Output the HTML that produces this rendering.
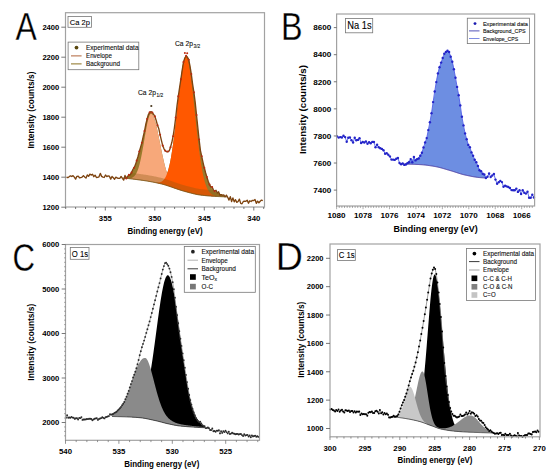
<!DOCTYPE html>
<html><head><meta charset="utf-8"><style>
html,body{margin:0;padding:0;background:#fff;width:550px;height:473px;overflow:hidden;position:relative}
text{font-family:"Liberation Sans", sans-serif}
</style></head><body>
<svg width="550" height="473" viewBox="0 0 550 473" style="position:absolute;left:0;top:0">
<g font-family='"Liberation Sans", sans-serif'>
<polygon points="122.50,178.09 123.00,178.11 123.50,178.14 124.00,178.09 124.50,177.96 125.00,177.77 125.50,177.55 126.00,177.29 126.50,177.00 127.00,176.70 127.50,176.39 128.00,176.04 128.50,175.64 129.00,175.20 129.50,174.71 130.00,174.17 130.50,173.59 131.00,172.97 131.50,172.31 132.00,171.59 132.50,170.80 133.00,169.93 133.50,168.98 134.00,167.96 134.50,166.87 135.00,165.70 135.50,164.45 136.00,163.08 136.50,161.54 137.00,159.84 137.50,158.05 138.00,156.22 138.50,154.42 139.00,152.64 139.50,150.87 140.00,149.08 140.50,147.27 141.00,145.43 141.50,143.58 142.00,141.70 142.50,139.79 143.00,137.83 143.50,135.78 144.00,133.57 144.50,131.14 145.00,128.50 145.50,125.80 146.00,123.24 146.50,120.97 147.00,119.03 147.50,117.34 148.00,115.85 148.50,114.60 149.00,113.59 149.50,112.77 150.00,112.11 150.50,111.94 151.00,112.02 151.50,112.38 152.00,112.97 152.50,113.78 153.00,114.85 153.50,116.20 154.00,117.83 154.50,119.24 155.00,120.84 155.50,122.61 156.00,124.53 156.50,126.59 157.00,128.77 157.50,131.05 158.00,133.41 158.50,135.83 159.00,138.31 159.50,140.80 160.00,143.31 160.50,145.82 161.00,148.31 161.50,150.77 162.00,153.18 162.50,155.54 163.00,157.83 163.50,160.04 164.00,162.18 164.50,164.22 165.00,166.17 165.50,168.02 166.00,169.78 166.50,171.43 167.00,172.98 167.50,172.37 168.00,170.78 168.50,169.03 169.00,167.09 169.50,164.96 170.00,162.64 170.50,160.13 171.00,157.41 171.50,154.49 172.00,151.37 172.50,148.05 173.00,144.54 173.50,140.84 174.00,136.96 174.50,132.92 175.00,128.73 175.50,124.42 176.00,119.99 176.50,115.49 177.00,110.93 177.50,106.34 178.00,101.76 178.50,97.22 179.00,92.75 179.50,88.52 180.00,85.13 180.50,81.57 181.00,77.96 181.50,74.40 182.00,70.90 182.50,67.45 183.00,64.25 183.50,61.64 184.00,59.69 184.50,58.14 185.00,56.94 185.50,56.12 186.00,55.70 186.50,55.78 187.00,56.11 187.50,56.62 188.00,57.37 188.50,58.47 189.00,60.02 189.50,62.24 190.00,65.23 190.50,68.77 191.00,72.46 191.50,76.09 192.00,79.68 192.50,83.27 193.00,86.83 193.50,90.30 194.00,93.70 194.50,97.22 195.00,101.10 195.50,105.47 196.00,110.22 196.50,115.15 197.00,120.03 197.50,124.83 198.00,129.61 198.50,134.36 199.00,138.97 199.50,143.25 200.00,147.07 200.50,150.38 201.00,153.28 201.50,155.90 202.00,158.31 202.50,160.56 203.00,162.68 203.50,164.68 204.00,166.61 204.50,168.48 205.00,170.33 205.50,172.18 206.00,174.03 206.50,175.87 207.00,177.66 207.50,179.35 208.00,180.89 208.50,182.25 209.00,183.42 209.50,184.44 210.00,185.37 210.50,186.24 211.00,187.04 211.50,187.79 212.00,188.47 212.50,189.10 213.00,189.66 213.50,190.16 214.00,190.59 214.50,190.98 215.00,191.33 215.50,191.64 216.00,191.93 216.50,192.19 217.00,192.44 217.50,192.67 218.00,192.88 218.50,193.09 219.00,193.30 219.50,193.50 220.00,193.71 220.50,193.93 221.00,194.15 221.50,194.39 222.00,194.65 222.50,194.94 223.00,195.25 223.50,195.61 224.00,196.02 224.50,196.45 225.00,196.79 225.50,196.79 226.00,196.80 226.50,196.81 227.00,196.81 227.50,196.82 227.50,196.82 227.00,196.81 226.50,196.81 226.00,196.80 225.50,196.79 225.00,196.79 224.50,196.78 224.00,196.76 223.50,196.75 223.00,196.74 222.50,196.72 222.00,196.70 221.50,196.68 221.00,196.66 220.50,196.64 220.00,196.62 219.50,196.60 219.00,196.57 218.50,196.55 218.00,196.52 217.50,196.50 217.00,196.47 216.50,196.44 216.00,196.41 215.50,196.39 215.00,196.36 214.50,196.33 214.00,196.30 213.50,196.27 213.00,196.24 212.50,196.21 212.00,196.18 211.50,196.14 211.00,196.11 210.50,196.07 210.00,196.03 209.50,196.00 209.00,195.96 208.50,195.91 208.00,195.87 207.50,195.83 207.00,195.78 206.50,195.73 206.00,195.69 205.50,195.64 205.00,195.59 204.50,195.53 204.00,195.48 203.50,195.43 203.00,195.37 202.50,195.31 202.00,195.25 201.50,195.19 201.00,195.13 200.50,195.07 200.00,195.00 199.50,194.93 199.00,194.86 198.50,194.78 198.00,194.69 197.50,194.60 197.00,194.51 196.50,194.41 196.00,194.31 195.50,194.20 195.00,194.09 194.50,193.98 194.00,193.86 193.50,193.75 193.00,193.62 192.50,193.50 192.00,193.37 191.50,193.24 191.00,193.11 190.50,192.98 190.00,192.85 189.50,192.72 189.00,192.58 188.50,192.45 188.00,192.31 187.50,192.17 187.00,192.04 186.50,191.90 186.00,191.77 185.50,191.63 185.00,191.50 184.50,191.37 184.00,191.23 183.50,191.09 183.00,190.94 182.50,190.79 182.00,190.64 181.50,190.49 181.00,190.33 180.50,190.17 180.00,190.01 179.50,189.85 179.00,189.68 178.50,189.52 178.00,189.35 177.50,189.18 177.00,189.01 176.50,188.83 176.00,188.66 175.50,188.48 175.00,188.31 174.50,188.13 174.00,187.96 173.50,187.78 173.00,187.61 172.50,187.43 172.00,187.26 171.50,187.08 171.00,186.91 170.50,186.73 170.00,186.56 169.50,186.39 169.00,186.22 168.50,186.05 168.00,185.89 167.50,185.72 167.00,185.56 166.50,185.40 166.00,185.24 165.50,185.09 165.00,184.94 164.50,184.79 164.00,184.64 163.50,184.50 163.00,184.36 162.50,184.22 162.00,184.09 161.50,183.96 161.00,183.84 160.50,183.72 160.00,183.60 159.50,183.49 159.00,183.38 158.50,183.26 158.00,183.15 157.50,183.05 157.00,182.94 156.50,182.83 156.00,182.73 155.50,182.62 155.00,182.52 154.50,182.42 154.00,182.32 153.50,182.22 153.00,182.12 152.50,182.02 152.00,181.93 151.50,181.83 151.00,181.74 150.50,181.64 150.00,181.55 149.50,181.46 149.00,181.38 148.50,181.29 148.00,181.20 147.50,181.12 147.00,181.03 146.50,180.95 146.00,180.87 145.50,180.79 145.00,180.71 144.50,180.63 144.00,180.56 143.50,180.48 143.00,180.41 142.50,180.34 142.00,180.27 141.50,180.20 141.00,180.13 140.50,180.06 140.00,180.00 139.50,179.94 139.00,179.87 138.50,179.80 138.00,179.74 137.50,179.67 137.00,179.61 136.50,179.54 136.00,179.48 135.50,179.41 135.00,179.34 134.50,179.28 134.00,179.21 133.50,179.15 133.00,179.09 132.50,179.02 132.00,178.96 131.50,178.90 131.00,178.84 130.50,178.78 130.00,178.73 129.50,178.67 129.00,178.62 128.50,178.56 128.00,178.51 127.50,178.46 127.00,178.42 126.50,178.37 126.00,178.33 125.50,178.28 125.00,178.25 124.50,178.21 124.00,178.17 123.50,178.14 123.00,178.11 122.50,178.09" fill="#9a7a2c"/>
<polygon points="129.00,178.29 129.50,178.25 130.00,178.20 130.50,178.12 131.00,178.02 131.50,177.88 132.00,177.70 132.50,177.47 133.00,177.19 133.50,176.85 134.00,176.44 134.50,175.95 135.00,175.36 135.50,174.68 136.00,173.88 136.50,172.97 137.00,171.92 137.50,170.74 138.00,169.41 138.50,167.92 139.00,166.27 139.50,164.46 140.00,162.48 140.50,160.35 141.00,158.05 141.50,155.62 142.00,153.04 142.50,150.34 143.00,147.54 143.50,144.67 144.00,141.74 144.50,138.78 145.00,135.84 145.50,132.93 146.00,130.11 146.50,127.40 147.00,124.84 147.50,122.47 148.00,120.33 148.50,118.44 149.00,116.84 149.50,115.56 150.00,114.60 150.50,114.00 151.00,113.77 151.50,113.87 152.00,114.22 152.50,114.79 153.00,115.59 153.50,116.61 154.00,117.83 154.50,119.24 155.00,120.84 155.50,122.61 156.00,124.53 156.50,126.59 157.00,128.77 157.50,131.05 158.00,133.41 158.50,135.83 159.00,138.31 159.50,140.80 160.00,143.31 160.50,145.82 161.00,148.31 161.50,150.77 162.00,153.18 162.50,155.54 163.00,157.83 163.50,160.04 164.00,162.18 164.50,164.22 165.00,166.17 165.50,168.02 166.00,169.78 166.50,171.43 167.00,172.98 167.50,174.44 168.00,175.80 168.50,177.06 169.00,178.24 169.50,179.32 170.00,180.33 170.50,181.25 171.00,182.10 171.50,182.89 172.00,183.61 172.50,184.27 173.00,184.87 173.50,185.42 174.00,185.93 174.50,186.40 175.00,186.83 175.50,187.23 176.00,187.60 176.50,187.93 177.00,188.25 177.50,188.54 178.00,188.82 178.50,189.07 179.00,189.32 179.50,189.55 179.50,189.85 179.00,189.68 178.50,189.52 178.00,189.35 177.50,189.18 177.00,189.01 176.50,188.83 176.00,188.66 175.50,188.48 175.00,188.31 174.50,188.13 174.00,187.96 173.50,187.78 173.00,187.61 172.50,187.43 172.00,187.26 171.50,187.08 171.00,186.91 170.50,186.73 170.00,186.56 169.50,186.39 169.00,186.22 168.50,186.05 168.00,185.89 167.50,185.72 167.00,185.56 166.50,185.40 166.00,185.24 165.50,185.09 165.00,184.94 164.50,184.79 164.00,184.64 163.50,184.50 163.00,184.36 162.50,184.22 162.00,184.09 161.50,183.96 161.00,183.84 160.50,183.72 160.00,183.60 159.50,183.49 159.00,183.38 158.50,183.26 158.00,183.15 157.50,183.05 157.00,182.94 156.50,182.83 156.00,182.73 155.50,182.62 155.00,182.52 154.50,182.42 154.00,182.32 153.50,182.22 153.00,182.12 152.50,182.02 152.00,181.93 151.50,181.83 151.00,181.74 150.50,181.64 150.00,181.55 149.50,181.46 149.00,181.38 148.50,181.29 148.00,181.20 147.50,181.12 147.00,181.03 146.50,180.95 146.00,180.87 145.50,180.79 145.00,180.71 144.50,180.63 144.00,180.56 143.50,180.48 143.00,180.41 142.50,180.34 142.00,180.27 141.50,180.20 141.00,180.13 140.50,180.06 140.00,180.00 139.50,179.94 139.00,179.87 138.50,179.80 138.00,179.74 137.50,179.67 137.00,179.61 136.50,179.54 136.00,179.48 135.50,179.41 135.00,179.34 134.50,179.28 134.00,179.21 133.50,179.15 133.00,179.09 132.50,179.02 132.00,178.96 131.50,178.90 131.00,178.84 130.50,178.78 130.00,178.73 129.50,178.67 129.00,178.62" fill="#f7a87a"/>
<polygon points="156.00,182.42 156.50,182.46 157.00,182.48 157.50,182.49 158.00,182.48 158.50,182.45 159.00,182.40 159.50,182.32 160.00,182.20 160.50,182.05 161.00,181.86 161.50,181.63 162.00,181.34 162.50,180.99 163.00,180.58 163.50,180.09 164.00,179.52 164.50,178.86 165.00,178.09 165.50,177.21 166.00,176.21 166.50,175.08 167.00,173.80 167.50,172.37 168.00,170.78 168.50,169.03 169.00,167.09 169.50,164.96 170.00,162.64 170.50,160.13 171.00,157.41 171.50,154.49 172.00,151.37 172.50,148.05 173.00,144.54 173.50,140.84 174.00,136.96 174.50,132.92 175.00,128.73 175.50,124.42 176.00,119.99 176.50,115.49 177.00,110.93 177.50,106.34 178.00,101.76 178.50,97.22 179.00,92.75 179.50,88.39 180.00,84.17 180.50,80.14 181.00,76.32 181.50,72.76 182.00,69.48 182.50,66.52 183.00,63.91 183.50,61.67 184.00,59.83 184.50,58.40 185.00,57.41 185.50,56.86 186.00,56.77 186.50,57.12 187.00,57.91 187.50,59.12 188.00,60.75 188.50,62.78 189.00,65.20 189.50,67.98 190.00,71.10 190.50,74.53 191.00,78.24 191.50,82.20 192.00,86.37 192.50,90.73 193.00,95.24 193.50,99.86 194.00,104.56 194.50,109.31 195.00,114.07 195.50,118.82 196.00,123.53 196.50,128.16 197.00,132.70 197.50,137.13 198.00,141.41 198.50,145.55 199.00,149.52 199.50,153.31 200.00,156.92 200.50,160.33 201.00,163.55 201.50,166.57 202.00,169.40 202.50,172.03 203.00,174.48 203.50,176.74 204.00,178.82 204.50,180.72 205.00,182.46 205.50,184.05 206.00,185.48 206.50,186.78 207.00,187.95 207.50,189.00 208.00,189.94 208.50,190.78 209.00,191.52 209.50,192.18 210.00,192.76 210.50,193.27 211.00,193.72 211.50,194.12 212.00,194.46 212.50,194.76 213.00,195.02 213.50,195.25 214.00,195.45 214.50,195.62 215.00,195.77 215.50,195.90 216.00,196.01 216.50,196.11 216.50,196.44 216.00,196.41 215.50,196.39 215.00,196.36 214.50,196.33 214.00,196.30 213.50,196.27 213.00,196.24 212.50,196.21 212.00,196.18 211.50,196.14 211.00,196.11 210.50,196.07 210.00,196.03 209.50,196.00 209.00,195.96 208.50,195.91 208.00,195.87 207.50,195.83 207.00,195.78 206.50,195.73 206.00,195.69 205.50,195.64 205.00,195.59 204.50,195.53 204.00,195.48 203.50,195.43 203.00,195.37 202.50,195.31 202.00,195.25 201.50,195.19 201.00,195.13 200.50,195.07 200.00,195.00 199.50,194.93 199.00,194.86 198.50,194.78 198.00,194.69 197.50,194.60 197.00,194.51 196.50,194.41 196.00,194.31 195.50,194.20 195.00,194.09 194.50,193.98 194.00,193.86 193.50,193.75 193.00,193.62 192.50,193.50 192.00,193.37 191.50,193.24 191.00,193.11 190.50,192.98 190.00,192.85 189.50,192.72 189.00,192.58 188.50,192.45 188.00,192.31 187.50,192.17 187.00,192.04 186.50,191.90 186.00,191.77 185.50,191.63 185.00,191.50 184.50,191.37 184.00,191.23 183.50,191.09 183.00,190.94 182.50,190.79 182.00,190.64 181.50,190.49 181.00,190.33 180.50,190.17 180.00,190.01 179.50,189.85 179.00,189.68 178.50,189.52 178.00,189.35 177.50,189.18 177.00,189.01 176.50,188.83 176.00,188.66 175.50,188.48 175.00,188.31 174.50,188.13 174.00,187.96 173.50,187.78 173.00,187.61 172.50,187.43 172.00,187.26 171.50,187.08 171.00,186.91 170.50,186.73 170.00,186.56 169.50,186.39 169.00,186.22 168.50,186.05 168.00,185.89 167.50,185.72 167.00,185.56 166.50,185.40 166.00,185.24 165.50,185.09 165.00,184.94 164.50,184.79 164.00,184.64 163.50,184.50 163.00,184.36 162.50,184.22 162.00,184.09 161.50,183.96 161.00,183.84 160.50,183.72 160.00,183.60 159.50,183.49 159.00,183.38 158.50,183.26 158.00,183.15 157.50,183.05 157.00,182.94 156.50,182.83 156.00,182.73" fill="#ff5800"/>
<polygon points="122.50,178.08 123.00,178.10 123.50,178.13 124.00,178.09 124.50,177.96 125.00,177.77 125.50,177.55 126.00,177.29 126.50,177.00 127.00,176.70 127.50,176.39 128.00,176.04 128.50,175.64 129.00,175.20 129.50,174.71 130.00,174.17 130.50,173.59 131.00,172.97 131.50,172.90 132.00,172.96 132.50,173.02 133.00,173.09 133.50,173.15 134.00,173.21 134.50,173.28 135.00,173.34 135.50,173.41 136.00,173.48 136.50,173.54 137.00,173.61 137.50,173.67 138.00,173.74 138.50,173.80 139.00,173.87 139.50,173.94 140.00,174.00 140.50,174.06 141.00,174.13 141.50,174.20 142.00,174.27 142.50,174.34 143.00,174.41 143.50,174.48 144.00,174.56 144.50,174.63 145.00,174.71 145.50,174.79 146.00,174.87 146.50,174.95 147.00,175.03 147.50,175.12 148.00,175.20 148.50,175.29 149.00,175.38 149.50,175.46 150.00,175.55 150.50,175.64 151.00,175.74 151.50,175.83 152.00,175.93 152.50,176.02 153.00,176.12 153.50,176.22 154.00,176.32 154.50,176.42 155.00,176.52 155.50,176.62 156.00,176.73 156.50,176.83 157.00,176.94 157.50,177.05 158.00,177.15 158.50,177.26 159.00,177.38 159.50,177.49 160.00,177.60 160.50,177.72 161.00,177.84 161.50,177.96 162.00,178.09 162.50,178.22 163.00,178.36 163.50,178.50 164.00,178.64 164.50,178.79 165.00,178.94 165.50,179.09 166.00,179.24 166.50,179.40 167.00,179.56 167.50,179.72 168.00,179.89 168.50,180.05 169.00,180.22 169.50,180.39 170.00,180.56 170.50,180.73 171.00,180.91 171.50,181.08 172.00,181.26 172.50,181.43 173.00,181.61 173.50,181.78 174.00,181.96 174.50,182.13 175.00,182.31 175.50,182.48 176.00,182.66 176.50,182.83 177.00,183.01 177.50,183.18 178.00,183.35 178.50,183.52 179.00,183.68 179.50,183.85 180.00,184.01 180.50,184.17 181.00,184.33 181.50,184.49 182.00,184.64 182.50,184.79 183.00,184.94 183.50,185.09 184.00,185.23 184.50,185.37 185.00,185.50 185.50,185.63 186.00,185.77 186.50,185.90 187.00,186.04 187.50,186.17 188.00,186.31 188.50,186.45 189.00,186.58 189.50,186.72 190.00,186.85 190.50,186.98 191.00,187.11 191.50,187.24 192.00,187.37 192.50,187.50 193.00,187.62 193.50,187.75 194.00,187.86 194.50,187.98 195.00,188.09 195.50,188.20 196.00,188.31 196.50,188.41 197.00,188.51 197.50,188.60 198.00,188.69 198.50,188.78 199.00,188.86 199.50,188.93 200.00,189.00 200.50,189.07 201.00,189.13 201.50,189.19 202.00,189.25 202.50,189.31 203.00,189.37 203.50,189.43 204.00,189.48 204.50,189.53 205.00,189.59 205.50,189.64 206.00,189.69 206.50,189.73 207.00,189.78 207.50,189.83 208.00,189.87 208.50,189.91 209.00,189.96 209.50,190.00 210.00,190.03 210.50,190.07 211.00,190.11 211.50,190.14 212.00,190.18 212.50,190.21 213.00,190.24 213.50,190.27 214.00,190.59 214.50,190.98 215.00,191.33 215.50,191.64 216.00,191.93 216.50,192.19 217.00,192.44 217.50,192.67 218.00,192.88 218.50,193.09 219.00,193.30 219.50,193.50 220.00,193.71 220.50,193.93 221.00,194.15 221.50,194.39 222.00,194.65 222.50,194.94 223.00,195.25 223.50,195.61 224.00,196.02 224.50,196.45 225.00,196.78 225.50,196.79 226.00,196.80 226.50,196.80 227.00,196.81 227.50,196.81 227.50,196.82 227.00,196.81 226.50,196.81 226.00,196.80 225.50,196.79 225.00,196.79 224.50,196.78 224.00,196.76 223.50,196.75 223.00,196.74 222.50,196.72 222.00,196.70 221.50,196.68 221.00,196.66 220.50,196.64 220.00,196.62 219.50,196.60 219.00,196.57 218.50,196.55 218.00,196.52 217.50,196.50 217.00,196.47 216.50,196.44 216.00,196.41 215.50,196.39 215.00,196.36 214.50,196.33 214.00,196.30 213.50,196.27 213.00,196.24 212.50,196.21 212.00,196.18 211.50,196.14 211.00,196.11 210.50,196.07 210.00,196.03 209.50,196.00 209.00,195.96 208.50,195.91 208.00,195.87 207.50,195.83 207.00,195.78 206.50,195.73 206.00,195.69 205.50,195.64 205.00,195.59 204.50,195.53 204.00,195.48 203.50,195.43 203.00,195.37 202.50,195.31 202.00,195.25 201.50,195.19 201.00,195.13 200.50,195.07 200.00,195.00 199.50,194.93 199.00,194.86 198.50,194.78 198.00,194.69 197.50,194.60 197.00,194.51 196.50,194.41 196.00,194.31 195.50,194.20 195.00,194.09 194.50,193.98 194.00,193.86 193.50,193.75 193.00,193.62 192.50,193.50 192.00,193.37 191.50,193.24 191.00,193.11 190.50,192.98 190.00,192.85 189.50,192.72 189.00,192.58 188.50,192.45 188.00,192.31 187.50,192.17 187.00,192.04 186.50,191.90 186.00,191.77 185.50,191.63 185.00,191.50 184.50,191.37 184.00,191.23 183.50,191.09 183.00,190.94 182.50,190.79 182.00,190.64 181.50,190.49 181.00,190.33 180.50,190.17 180.00,190.01 179.50,189.85 179.00,189.68 178.50,189.52 178.00,189.35 177.50,189.18 177.00,189.01 176.50,188.83 176.00,188.66 175.50,188.48 175.00,188.31 174.50,188.13 174.00,187.96 173.50,187.78 173.00,187.61 172.50,187.43 172.00,187.26 171.50,187.08 171.00,186.91 170.50,186.73 170.00,186.56 169.50,186.39 169.00,186.22 168.50,186.05 168.00,185.89 167.50,185.72 167.00,185.56 166.50,185.40 166.00,185.24 165.50,185.09 165.00,184.94 164.50,184.79 164.00,184.64 163.50,184.50 163.00,184.36 162.50,184.22 162.00,184.09 161.50,183.96 161.00,183.84 160.50,183.72 160.00,183.60 159.50,183.49 159.00,183.38 158.50,183.26 158.00,183.15 157.50,183.05 157.00,182.94 156.50,182.83 156.00,182.73 155.50,182.62 155.00,182.52 154.50,182.42 154.00,182.32 153.50,182.22 153.00,182.12 152.50,182.02 152.00,181.93 151.50,181.83 151.00,181.74 150.50,181.64 150.00,181.55 149.50,181.46 149.00,181.38 148.50,181.29 148.00,181.20 147.50,181.12 147.00,181.03 146.50,180.95 146.00,180.87 145.50,180.79 145.00,180.71 144.50,180.63 144.00,180.56 143.50,180.48 143.00,180.41 142.50,180.34 142.00,180.27 141.50,180.20 141.00,180.13 140.50,180.06 140.00,180.00 139.50,179.94 139.00,179.87 138.50,179.80 138.00,179.74 137.50,179.67 137.00,179.61 136.50,179.54 136.00,179.48 135.50,179.41 135.00,179.34 134.50,179.28 134.00,179.21 133.50,179.15 133.00,179.09 132.50,179.02 132.00,178.96 131.50,178.90 131.00,178.84 130.50,178.78 130.00,178.73 129.50,178.67 129.00,178.62 128.50,178.56 128.00,178.51 127.50,178.46 127.00,178.42 126.50,178.37 126.00,178.33 125.50,178.28 125.00,178.25 124.50,178.21 124.00,178.17 123.50,178.14 123.00,178.11 122.50,178.09" fill="#8a5a10" opacity="0.35"/>
<polyline points="122.50,178.09 123.00,178.11 123.50,178.14 124.00,178.17 124.50,178.21 125.00,178.25 125.50,178.28 126.00,178.33 126.50,178.37 127.00,178.42 127.50,178.46 128.00,178.51 128.50,178.56 129.00,178.62 129.50,178.67 130.00,178.73 130.50,178.78 131.00,178.84 131.50,178.90 132.00,178.96 132.50,179.02 133.00,179.09 133.50,179.15 134.00,179.21 134.50,179.28 135.00,179.34 135.50,179.41 136.00,179.48 136.50,179.54 137.00,179.61 137.50,179.67 138.00,179.74 138.50,179.80 139.00,179.87 139.50,179.94 140.00,180.00 140.50,180.06 141.00,180.13 141.50,180.20 142.00,180.27 142.50,180.34 143.00,180.41 143.50,180.48 144.00,180.56 144.50,180.63 145.00,180.71 145.50,180.79 146.00,180.87 146.50,180.95 147.00,181.03 147.50,181.12 148.00,181.20 148.50,181.29 149.00,181.38 149.50,181.46 150.00,181.55 150.50,181.64 151.00,181.74 151.50,181.83 152.00,181.93 152.50,182.02 153.00,182.12 153.50,182.22 154.00,182.32 154.50,182.42 155.00,182.52 155.50,182.62 156.00,182.73 156.50,182.83 157.00,182.94 157.50,183.05 158.00,183.15 158.50,183.26 159.00,183.38 159.50,183.49 160.00,183.60 160.50,183.72 161.00,183.84 161.50,183.96 162.00,184.09 162.50,184.22 163.00,184.36 163.50,184.50 164.00,184.64 164.50,184.79 165.00,184.94 165.50,185.09 166.00,185.24 166.50,185.40 167.00,185.56 167.50,185.72 168.00,185.89 168.50,186.05 169.00,186.22 169.50,186.39 170.00,186.56 170.50,186.73 171.00,186.91 171.50,187.08 172.00,187.26 172.50,187.43 173.00,187.61 173.50,187.78 174.00,187.96 174.50,188.13 175.00,188.31 175.50,188.48 176.00,188.66 176.50,188.83 177.00,189.01 177.50,189.18 178.00,189.35 178.50,189.52 179.00,189.68 179.50,189.85 180.00,190.01 180.50,190.17 181.00,190.33 181.50,190.49 182.00,190.64 182.50,190.79 183.00,190.94 183.50,191.09 184.00,191.23 184.50,191.37 185.00,191.50 185.50,191.63 186.00,191.77 186.50,191.90 187.00,192.04 187.50,192.17 188.00,192.31 188.50,192.45 189.00,192.58 189.50,192.72 190.00,192.85 190.50,192.98 191.00,193.11 191.50,193.24 192.00,193.37 192.50,193.50 193.00,193.62 193.50,193.75 194.00,193.86 194.50,193.98 195.00,194.09 195.50,194.20 196.00,194.31 196.50,194.41 197.00,194.51 197.50,194.60 198.00,194.69 198.50,194.78 199.00,194.86 199.50,194.93 200.00,195.00 200.50,195.07 201.00,195.13 201.50,195.19 202.00,195.25 202.50,195.31 203.00,195.37 203.50,195.43 204.00,195.48 204.50,195.53 205.00,195.59 205.50,195.64 206.00,195.69 206.50,195.73 207.00,195.78 207.50,195.83 208.00,195.87 208.50,195.91 209.00,195.96 209.50,196.00 210.00,196.03 210.50,196.07 211.00,196.11 211.50,196.14 212.00,196.18 212.50,196.21 213.00,196.24 213.50,196.27 214.00,196.30 214.50,196.33 215.00,196.36 215.50,196.39 216.00,196.41 216.50,196.44 217.00,196.47 217.50,196.50 218.00,196.52 218.50,196.55 219.00,196.57 219.50,196.60 220.00,196.62 220.50,196.64 221.00,196.66 221.50,196.68 222.00,196.70 222.50,196.72 223.00,196.74 223.50,196.75 224.00,196.76 224.50,196.78 225.00,196.79 225.50,196.79 226.00,196.80 226.50,196.81 227.00,196.81 227.50,196.82" fill="none" stroke="#7a5518" stroke-width="1" stroke-linejoin="round"/>
<polyline points="66.50,177.26 67.80,177.68 69.10,176.79 70.40,175.83 71.70,176.46 73.00,175.63 74.30,177.18 75.60,179.09 76.90,176.32 78.20,176.12 79.50,177.77 80.80,177.56 82.10,177.18 83.40,175.62 84.70,176.96 86.00,178.05 87.30,174.99 88.60,176.31 89.90,174.15 91.20,175.07 92.50,174.25 93.80,176.67 95.10,175.14 96.40,177.47 97.70,177.33 99.00,176.84 100.30,173.38 101.60,176.39 102.90,177.16 104.20,177.45 105.50,175.03 106.80,176.66 108.10,175.96 109.40,176.26 110.70,179.14 112.00,176.43 113.30,177.72 114.60,179.23 115.90,177.17 117.20,177.99 118.50,178.41 119.80,178.38 121.10,176.44 122.40,178.35 123.70,180.14 125.00,175.40 126.30,178.38 127.60,176.46 128.90,174.95 130.20,174.80 131.50,172.59 132.80,169.66 134.10,167.70 135.40,164.83 136.70,160.65 138.00,156.53 139.30,151.55 140.60,147.18 141.90,142.68 143.20,136.58 144.50,131.06 145.80,124.27 147.10,119.04 148.40,114.55 149.70,112.45 151.00,111.61 152.30,112.53 153.60,114.38 154.90,116.44 156.20,120.51 157.50,125.22 158.80,128.65 160.10,134.80 161.40,140.44 162.70,145.60 164.00,148.82 165.30,150.83 166.60,151.80 167.90,151.54 169.20,150.97 170.50,147.19 171.80,142.55 173.10,136.26 174.40,127.77 175.70,117.56 177.00,105.86 178.30,96.40 179.60,87.51 180.90,79.21 182.20,70.02 183.50,62.14 184.80,57.99 186.10,55.95 187.40,57.28 188.70,59.69 190.00,66.05 191.30,74.04 192.60,84.09 193.90,92.39 195.20,102.31 196.50,115.04 197.80,127.21 199.10,139.54 200.40,150.30 201.70,156.29 203.00,162.27 204.30,167.79 205.60,172.76 206.90,177.13 208.20,181.17 209.50,184.63 210.80,186.89 212.10,186.98 213.40,189.87 214.70,191.13 216.00,190.32 217.30,192.95 218.60,191.84 219.90,195.14 221.20,194.56 222.50,195.11 223.80,195.00 225.10,196.82 226.40,195.12 227.70,197.31 229.00,200.11 230.30,196.73 231.60,201.50 232.90,197.89 234.20,201.89 235.50,199.70 236.80,202.33 238.10,201.51 239.40,199.13 240.70,203.40 242.00,203.74 243.30,201.50 244.60,201.19 245.90,201.36 247.20,200.13 248.50,203.24 249.80,200.76 251.10,201.49 252.40,200.35 253.70,200.58 255.00,199.56 256.30,203.32 257.60,201.15 258.90,202.77 260.20,201.26 261.50,200.11 262.80,200.59" fill="none" stroke="#7e4410" stroke-width="1.35" stroke-linejoin="round"/>
<g fill="#b82c12"><circle cx="126.3" cy="178.4" r="1.05"/><circle cx="128.9" cy="174.9" r="1.05"/><circle cx="131.5" cy="172.6" r="1.05"/><circle cx="134.1" cy="167.7" r="1.05"/><circle cx="136.7" cy="160.6" r="1.05"/><circle cx="139.3" cy="151.5" r="1.05"/><circle cx="141.9" cy="142.7" r="1.05"/><circle cx="144.5" cy="131.1" r="1.05"/><circle cx="147.1" cy="119.0" r="1.05"/><circle cx="149.7" cy="112.4" r="1.05"/><circle cx="152.3" cy="112.5" r="1.05"/><circle cx="154.9" cy="116.4" r="1.05"/><circle cx="157.5" cy="125.2" r="1.05"/><circle cx="160.1" cy="134.8" r="1.05"/><circle cx="162.7" cy="145.6" r="1.05"/><circle cx="165.3" cy="150.8" r="1.05"/><circle cx="167.9" cy="151.5" r="1.05"/><circle cx="170.5" cy="147.2" r="1.05"/><circle cx="173.1" cy="136.3" r="1.05"/><circle cx="175.7" cy="117.6" r="1.05"/><circle cx="178.3" cy="96.4" r="1.05"/><circle cx="180.9" cy="79.2" r="1.05"/><circle cx="183.5" cy="62.1" r="1.05"/><circle cx="186.1" cy="55.9" r="1.05"/><circle cx="188.7" cy="59.7" r="1.05"/><circle cx="191.3" cy="74.0" r="1.05"/><circle cx="193.9" cy="92.4" r="1.05"/><circle cx="196.5" cy="115.0" r="1.05"/><circle cx="199.1" cy="139.5" r="1.05"/><circle cx="201.7" cy="156.3" r="1.05"/><circle cx="204.3" cy="167.8" r="1.05"/><circle cx="206.9" cy="177.1" r="1.05"/><circle cx="209.5" cy="184.6" r="1.05"/><circle cx="212.1" cy="187.0" r="1.05"/><circle cx="214.7" cy="191.1" r="1.05"/></g>
<rect x="65.5" y="12.7" width="199.0" height="194.3" fill="none" stroke="#a2a2a2" stroke-width="1.2"/>
<line x1="61.3" y1="207.20" x2="65.5" y2="207.20" stroke="#555" stroke-width="0.8"/>
<text x="59.3" y="210.0" font-size="8.1" text-anchor="end" font-weight="bold" fill="#000" textLength="16.9" lengthAdjust="spacingAndGlyphs">1200</text>
<line x1="61.3" y1="177.20" x2="65.5" y2="177.20" stroke="#555" stroke-width="0.8"/>
<text x="59.3" y="180.0" font-size="8.1" text-anchor="end" font-weight="bold" fill="#000" textLength="16.9" lengthAdjust="spacingAndGlyphs">1400</text>
<line x1="61.3" y1="147.20" x2="65.5" y2="147.20" stroke="#555" stroke-width="0.8"/>
<text x="59.3" y="150.0" font-size="8.1" text-anchor="end" font-weight="bold" fill="#000" textLength="16.9" lengthAdjust="spacingAndGlyphs">1600</text>
<line x1="61.3" y1="117.20" x2="65.5" y2="117.20" stroke="#555" stroke-width="0.8"/>
<text x="59.3" y="120.0" font-size="8.1" text-anchor="end" font-weight="bold" fill="#000" textLength="16.9" lengthAdjust="spacingAndGlyphs">1800</text>
<line x1="61.3" y1="87.20" x2="65.5" y2="87.20" stroke="#555" stroke-width="0.8"/>
<text x="59.3" y="90.0" font-size="8.1" text-anchor="end" font-weight="bold" fill="#000" textLength="16.9" lengthAdjust="spacingAndGlyphs">2000</text>
<line x1="61.3" y1="57.20" x2="65.5" y2="57.20" stroke="#555" stroke-width="0.8"/>
<text x="59.3" y="60.0" font-size="8.1" text-anchor="end" font-weight="bold" fill="#000" textLength="16.9" lengthAdjust="spacingAndGlyphs">2200</text>
<line x1="61.3" y1="27.20" x2="65.5" y2="27.20" stroke="#555" stroke-width="0.8"/>
<text x="59.3" y="30.0" font-size="8.1" text-anchor="end" font-weight="bold" fill="#000" textLength="16.9" lengthAdjust="spacingAndGlyphs">2400</text>
<line x1="263.70" y1="207" x2="263.70" y2="209" stroke="#555" stroke-width="0.8"/>
<line x1="253.80" y1="207" x2="253.80" y2="210.5" stroke="#555" stroke-width="0.8"/>
<line x1="243.90" y1="207" x2="243.90" y2="209" stroke="#555" stroke-width="0.8"/>
<line x1="234.00" y1="207" x2="234.00" y2="209" stroke="#555" stroke-width="0.8"/>
<line x1="224.10" y1="207" x2="224.10" y2="209" stroke="#555" stroke-width="0.8"/>
<line x1="214.20" y1="207" x2="214.20" y2="209" stroke="#555" stroke-width="0.8"/>
<line x1="204.30" y1="207" x2="204.30" y2="210.5" stroke="#555" stroke-width="0.8"/>
<line x1="194.40" y1="207" x2="194.40" y2="209" stroke="#555" stroke-width="0.8"/>
<line x1="184.50" y1="207" x2="184.50" y2="209" stroke="#555" stroke-width="0.8"/>
<line x1="174.60" y1="207" x2="174.60" y2="209" stroke="#555" stroke-width="0.8"/>
<line x1="164.70" y1="207" x2="164.70" y2="209" stroke="#555" stroke-width="0.8"/>
<line x1="154.80" y1="207" x2="154.80" y2="210.5" stroke="#555" stroke-width="0.8"/>
<line x1="144.90" y1="207" x2="144.90" y2="209" stroke="#555" stroke-width="0.8"/>
<line x1="135.00" y1="207" x2="135.00" y2="209" stroke="#555" stroke-width="0.8"/>
<line x1="125.10" y1="207" x2="125.10" y2="209" stroke="#555" stroke-width="0.8"/>
<line x1="115.20" y1="207" x2="115.20" y2="209" stroke="#555" stroke-width="0.8"/>
<line x1="105.30" y1="207" x2="105.30" y2="210.5" stroke="#555" stroke-width="0.8"/>
<line x1="95.40" y1="207" x2="95.40" y2="209" stroke="#555" stroke-width="0.8"/>
<line x1="85.50" y1="207" x2="85.50" y2="209" stroke="#555" stroke-width="0.8"/>
<line x1="75.60" y1="207" x2="75.60" y2="209" stroke="#555" stroke-width="0.8"/>
<line x1="65.70" y1="207" x2="65.70" y2="209" stroke="#555" stroke-width="0.8"/>
<text x="105.3" y="220.8" font-size="8.1" text-anchor="middle" font-weight="bold" fill="#000" textLength="13" lengthAdjust="spacingAndGlyphs">355</text>
<text x="154.8" y="220.8" font-size="8.1" text-anchor="middle" font-weight="bold" fill="#000" textLength="13" lengthAdjust="spacingAndGlyphs">350</text>
<text x="204.3" y="220.8" font-size="8.1" text-anchor="middle" font-weight="bold" fill="#000" textLength="13" lengthAdjust="spacingAndGlyphs">345</text>
<text x="253.8" y="220.8" font-size="8.1" text-anchor="middle" font-weight="bold" fill="#000" textLength="13" lengthAdjust="spacingAndGlyphs">340</text>
<text x="165.1" y="233.6" font-size="9" text-anchor="middle" font-weight="bold" fill="#000" textLength="75" lengthAdjust="spacingAndGlyphs">Binding energy (eV)</text>
<text x="34" y="110" font-size="8.3" text-anchor="middle" font-weight="bold" fill="#000" textLength="77" lengthAdjust="spacingAndGlyphs" transform="rotate(-90 34 110)">Intensity (counts/s)</text>
<text transform="translate(15.4 39.5) scale(0.84 1)" font-size="38" fill="#000" stroke="#fff" stroke-width="0.3">A</text>
<rect x="68" y="16.5" width="23.4" height="10.8" fill="#fff" stroke="#777" stroke-width="0.8"/>
<text x="69.8" y="24.9" font-size="8" text-anchor="start" font-weight="normal" fill="#000" textLength="20.1" lengthAdjust="spacingAndGlyphs" stroke="#000" stroke-width="0.1">Ca 2p</text>
<rect x="68.1" y="42.1" width="70.7" height="27.6" fill="#fff" stroke="#777" stroke-width="0.8"/>
<circle cx="76.5" cy="47.6" r="1.9" fill="#5a4810"/>
<line x1="71" y1="55.9" x2="81.6" y2="55.9" stroke="#b0643a" stroke-width="1"/>
<line x1="71" y1="63.9" x2="81.6" y2="63.9" stroke="#8a7020" stroke-width="1"/>
<text x="86" y="50" font-size="7" text-anchor="start" font-weight="normal" fill="#111" textLength="52.5" lengthAdjust="spacingAndGlyphs" stroke="#111" stroke-width="0.12">Experimental data</text>
<text x="86" y="58.3" font-size="7" text-anchor="start" font-weight="normal" fill="#111" textLength="26" lengthAdjust="spacingAndGlyphs" stroke="#111" stroke-width="0.12">Envelope</text>
<text x="86" y="66.3" font-size="7" text-anchor="start" font-weight="normal" fill="#111" textLength="34" lengthAdjust="spacingAndGlyphs" stroke="#111" stroke-width="0.12">Background</text>
<text x="175" y="45.5" font-size="7" text-anchor="start" font-weight="normal" fill="#111" textLength="18" lengthAdjust="spacingAndGlyphs" stroke="#111" stroke-width="0.12">Ca 2p</text>
<text x="193.6" y="47.8" font-size="5.4" text-anchor="start" font-weight="normal" fill="#111" textLength="6.6" lengthAdjust="spacingAndGlyphs" stroke="#111" stroke-width="0.12">3/2</text>
<text x="138" y="95" font-size="7" text-anchor="start" font-weight="normal" fill="#111" textLength="18" lengthAdjust="spacingAndGlyphs" stroke="#111" stroke-width="0.12">Ca 2p</text>
<text x="156.6" y="97.3" font-size="5.4" text-anchor="start" font-weight="normal" fill="#111" textLength="6.6" lengthAdjust="spacingAndGlyphs" stroke="#111" stroke-width="0.12">1/2</text>
<circle cx="151.3" cy="106" r="1.1" fill="#4a3a20"/>
<circle cx="184.9" cy="53" r="1.0" fill="#c02a10"/><circle cx="187.2" cy="53.2" r="1.0" fill="#c02a10"/>
<polygon points="401.10,162.62 401.60,162.98 402.10,163.42 402.60,163.82 403.10,164.02 403.60,164.02 404.10,164.03 404.60,164.01 405.10,163.75 405.60,163.41 406.10,163.02 406.60,162.59 407.10,162.13 407.60,161.68 408.10,161.24 408.60,160.83 409.10,160.48 409.60,160.20 410.10,159.99 410.60,159.84 411.10,159.71 411.60,159.61 412.10,159.51 412.60,159.43 413.10,159.36 413.60,159.29 414.10,159.21 414.60,159.13 415.10,159.03 415.60,158.92 416.10,158.79 416.60,158.62 417.10,158.41 417.60,158.11 418.10,157.70 418.60,157.19 419.10,156.60 419.60,155.93 420.10,155.22 420.60,154.46 421.10,153.63 421.60,152.70 422.10,151.66 422.60,150.53 423.10,149.30 423.60,147.99 424.10,146.61 424.60,145.16 425.10,143.63 425.60,141.99 426.10,140.22 426.60,138.30 427.10,136.26 427.60,134.11 428.10,131.85 428.60,129.49 429.10,126.99 429.60,124.29 430.10,121.40 430.60,118.38 431.10,115.30 431.60,112.23 432.10,109.20 432.60,106.17 433.10,103.13 433.60,100.04 434.10,96.86 434.60,93.52 435.10,89.97 435.60,86.29 436.10,82.69 436.60,79.39 437.10,76.54 437.60,74.14 438.10,72.04 438.60,70.13 439.10,68.37 439.60,66.75 440.10,65.25 440.60,63.85 441.10,62.52 441.60,61.23 442.10,59.94 442.60,58.64 443.10,57.34 443.60,56.08 444.10,54.89 444.60,53.79 445.10,52.81 445.60,51.98 446.10,51.32 446.60,50.87 447.10,50.66 447.60,50.72 448.10,51.06 448.60,51.68 449.10,52.51 449.60,53.51 450.10,54.62 450.60,55.82 451.10,57.14 451.60,58.67 452.10,60.48 452.60,62.51 453.10,64.74 453.60,67.14 454.10,69.78 454.60,72.72 455.10,75.87 455.60,79.07 456.10,82.12 456.60,84.92 457.10,87.46 457.60,89.84 458.10,92.20 458.60,94.69 459.10,97.44 459.60,100.59 460.10,104.14 460.60,107.92 461.10,111.70 461.60,115.24 462.10,118.43 462.60,121.33 463.10,124.04 463.60,126.62 464.10,129.05 464.60,131.35 465.10,133.48 465.60,135.46 466.10,137.28 466.60,138.96 467.10,140.52 467.60,141.99 468.10,143.38 468.60,144.70 469.10,145.98 469.60,147.22 470.10,148.45 470.60,149.68 471.10,150.91 471.60,152.16 472.10,153.42 472.60,154.68 473.10,155.93 473.60,157.16 474.10,158.37 474.60,159.55 475.10,160.69 475.60,161.78 476.10,162.81 476.60,163.79 477.10,164.73 477.60,165.66 478.10,166.57 478.60,167.47 479.10,168.36 479.60,169.22 480.10,170.04 480.60,170.84 481.10,171.59 481.60,172.29 482.10,172.95 482.60,173.54 483.10,174.07 483.60,174.53 484.10,174.93 484.60,175.28 485.10,175.60 485.60,175.89 486.10,176.14 486.60,176.32 486.60,177.99 486.10,177.98 485.60,177.96 485.10,177.94 484.60,177.91 484.10,177.89 483.60,177.86 483.10,177.83 482.60,177.80 482.10,177.76 481.60,177.72 481.10,177.69 480.60,177.65 480.10,177.61 479.60,177.57 479.10,177.52 478.60,177.47 478.10,177.41 477.60,177.36 477.10,177.29 476.60,177.23 476.10,177.16 475.60,177.08 475.10,177.01 474.60,176.93 474.10,176.84 473.60,176.76 473.10,176.67 472.60,176.58 472.10,176.49 471.60,176.39 471.10,176.29 470.60,176.19 470.10,176.09 469.60,175.99 469.10,175.89 468.60,175.78 468.10,175.67 467.60,175.57 467.10,175.46 466.60,175.35 466.10,175.24 465.60,175.13 465.10,175.02 464.60,174.91 464.10,174.79 463.60,174.67 463.10,174.54 462.60,174.41 462.10,174.27 461.60,174.13 461.10,173.99 460.60,173.84 460.10,173.69 459.60,173.54 459.10,173.38 458.60,173.22 458.10,173.06 457.60,172.90 457.10,172.74 456.60,172.57 456.10,172.41 455.60,172.25 455.10,172.08 454.60,171.92 454.10,171.76 453.60,171.60 453.10,171.44 452.60,171.28 452.10,171.12 451.60,170.97 451.10,170.82 450.60,170.67 450.10,170.53 449.60,170.39 449.10,170.24 448.60,170.10 448.10,169.95 447.60,169.80 447.10,169.65 446.60,169.50 446.10,169.36 445.60,169.21 445.10,169.06 444.60,168.91 444.10,168.76 443.60,168.61 443.10,168.47 442.60,168.32 442.10,168.18 441.60,168.04 441.10,167.90 440.60,167.76 440.10,167.63 439.60,167.50 439.10,167.38 438.60,167.25 438.10,167.13 437.60,167.02 437.10,166.91 436.60,166.80 436.10,166.70 435.60,166.61 435.10,166.52 434.60,166.43 434.10,166.35 433.60,166.26 433.10,166.18 432.60,166.09 432.10,166.01 431.60,165.93 431.10,165.85 430.60,165.77 430.10,165.70 429.60,165.62 429.10,165.55 428.60,165.47 428.10,165.40 427.60,165.34 427.10,165.27 426.60,165.20 426.10,165.14 425.60,165.08 425.10,165.02 424.60,164.97 424.10,164.92 423.60,164.87 423.10,164.82 422.60,164.78 422.10,164.74 421.60,164.70 421.10,164.66 420.60,164.63 420.10,164.61 419.60,164.58 419.10,164.56 418.60,164.53 418.10,164.51 417.60,164.48 417.10,164.46 416.60,164.44 416.10,164.41 415.60,164.39 415.10,164.37 414.60,164.35 414.10,164.33 413.60,164.31 413.10,164.29 412.60,164.27 412.10,164.25 411.60,164.23 411.10,164.21 410.60,164.19 410.10,164.18 409.60,164.16 409.10,164.15 408.60,164.13 408.10,164.12 407.60,164.10 407.10,164.09 406.60,164.08 406.10,164.07 405.60,164.06 405.10,164.05 404.60,164.04 404.10,164.03 403.60,164.02 403.10,164.02 402.60,164.01 402.10,164.01 401.60,164.01 401.10,164.00" fill="#6d8ee2"/>
<polyline points="401.10,164.00 401.60,164.01 402.10,164.01 402.60,164.01 403.10,164.02 403.60,164.02 404.10,164.03 404.60,164.04 405.10,164.05 405.60,164.06 406.10,164.07 406.60,164.08 407.10,164.09 407.60,164.10 408.10,164.12 408.60,164.13 409.10,164.15 409.60,164.16 410.10,164.18 410.60,164.19 411.10,164.21 411.60,164.23 412.10,164.25 412.60,164.27 413.10,164.29 413.60,164.31 414.10,164.33 414.60,164.35 415.10,164.37 415.60,164.39 416.10,164.41 416.60,164.44 417.10,164.46 417.60,164.48 418.10,164.51 418.60,164.53 419.10,164.56 419.60,164.58 420.10,164.61 420.60,164.63 421.10,164.66 421.60,164.70 422.10,164.74 422.60,164.78 423.10,164.82 423.60,164.87 424.10,164.92 424.60,164.97 425.10,165.02 425.60,165.08 426.10,165.14 426.60,165.20 427.10,165.27 427.60,165.34 428.10,165.40 428.60,165.47 429.10,165.55 429.60,165.62 430.10,165.70 430.60,165.77 431.10,165.85 431.60,165.93 432.10,166.01 432.60,166.09 433.10,166.18 433.60,166.26 434.10,166.35 434.60,166.43 435.10,166.52 435.60,166.61 436.10,166.70 436.60,166.80 437.10,166.91 437.60,167.02 438.10,167.13 438.60,167.25 439.10,167.38 439.60,167.50 440.10,167.63 440.60,167.76 441.10,167.90 441.60,168.04 442.10,168.18 442.60,168.32 443.10,168.47 443.60,168.61 444.10,168.76 444.60,168.91 445.10,169.06 445.60,169.21 446.10,169.36 446.60,169.50 447.10,169.65 447.60,169.80 448.10,169.95 448.60,170.10 449.10,170.24 449.60,170.39 450.10,170.53 450.60,170.67 451.10,170.82 451.60,170.97 452.10,171.12 452.60,171.28 453.10,171.44 453.60,171.60 454.10,171.76 454.60,171.92 455.10,172.08 455.60,172.25 456.10,172.41 456.60,172.57 457.10,172.74 457.60,172.90 458.10,173.06 458.60,173.22 459.10,173.38 459.60,173.54 460.10,173.69 460.60,173.84 461.10,173.99 461.60,174.13 462.10,174.27 462.60,174.41 463.10,174.54 463.60,174.67 464.10,174.79 464.60,174.91 465.10,175.02 465.60,175.13 466.10,175.24 466.60,175.35 467.10,175.46 467.60,175.57 468.10,175.67 468.60,175.78 469.10,175.89 469.60,175.99 470.10,176.09 470.60,176.19 471.10,176.29 471.60,176.39 472.10,176.49 472.60,176.58 473.10,176.67 473.60,176.76 474.10,176.84 474.60,176.93 475.10,177.01 475.60,177.08 476.10,177.16 476.60,177.23 477.10,177.29 477.60,177.36 478.10,177.41 478.60,177.47 479.10,177.52 479.60,177.57 480.10,177.61 480.60,177.65 481.10,177.69 481.60,177.72 482.10,177.76 482.60,177.80 483.10,177.83 483.60,177.86 484.10,177.89 484.60,177.91 485.10,177.94 485.60,177.96 486.10,177.98 486.60,177.99" fill="none" stroke="#4a3aa0" stroke-width="1" stroke-linejoin="round"/>
<polyline points="337.10,136.40 338.70,137.59 340.30,137.12 341.90,137.49 343.50,135.79 345.10,137.07 346.70,141.76 348.30,137.85 349.90,137.45 351.50,140.26 353.10,142.51 354.70,137.69 356.30,140.27 357.90,139.86 359.50,138.18 361.10,143.02 362.70,142.00 364.30,142.51 365.90,141.36 367.50,143.83 369.10,142.31 370.70,143.29 372.30,141.85 373.90,142.03 375.50,147.17 377.10,144.72 378.70,147.35 380.30,148.17 381.90,148.94 383.50,150.29 385.10,153.69 386.70,153.30 388.30,154.83 389.90,156.37 391.50,159.56 393.10,159.63 394.70,159.87 396.30,158.83 397.90,158.02 399.50,163.04 401.10,164.24 402.70,163.40 404.30,164.87 405.90,164.50 407.50,163.29 409.10,162.26 410.70,159.06 412.30,162.23 413.90,156.99 415.50,160.45 417.10,159.15 418.70,158.49 420.30,155.80 421.90,152.70 423.50,147.49 425.10,142.51 426.70,138.10 428.30,130.10 429.90,122.30 431.50,113.29 433.10,102.13 434.70,91.48 436.30,82.05 437.90,73.41 439.50,67.18 441.10,62.62 442.70,57.95 444.30,53.83 445.90,51.86 447.50,50.68 449.10,51.96 450.70,56.68 452.30,61.66 453.90,69.33 455.50,77.76 457.10,86.86 458.70,95.19 460.30,105.38 461.90,116.82 463.50,125.40 465.10,133.37 466.70,139.23 468.30,144.89 469.90,147.19 471.50,152.40 473.10,155.85 474.70,159.69 476.30,162.35 477.90,165.93 479.50,170.33 481.10,171.35 482.70,173.67 484.30,174.46 485.90,178.09 487.50,176.76 489.10,173.55 490.70,176.98 492.30,175.46 493.90,173.95 495.50,179.65 497.10,183.80 498.70,182.28 500.30,180.89 501.90,182.11 503.50,186.66 505.10,185.75 506.70,186.40 508.30,187.05 509.90,188.01 511.50,190.13 513.10,190.34 514.70,190.33 516.30,188.62 517.90,191.95 519.50,190.30 521.10,194.00 522.70,190.26 524.30,192.82 525.90,193.58 527.50,191.73 529.10,197.74 530.70,197.79 532.30,194.85 533.90,197.48" fill="none" stroke="#5060e8" stroke-width="0.9" stroke-linejoin="round"/>
<g fill="#2424c8"><circle cx="337.1" cy="136.4" r="1.2"/><circle cx="338.7" cy="137.6" r="1.2"/><circle cx="340.3" cy="137.1" r="1.2"/><circle cx="341.9" cy="137.5" r="1.2"/><circle cx="343.5" cy="135.8" r="1.2"/><circle cx="345.1" cy="137.1" r="1.2"/><circle cx="346.7" cy="141.8" r="1.2"/><circle cx="348.3" cy="137.8" r="1.2"/><circle cx="349.9" cy="137.4" r="1.2"/><circle cx="351.5" cy="140.3" r="1.2"/><circle cx="353.1" cy="142.5" r="1.2"/><circle cx="354.7" cy="137.7" r="1.2"/><circle cx="356.3" cy="140.3" r="1.2"/><circle cx="357.9" cy="139.9" r="1.2"/><circle cx="359.5" cy="138.2" r="1.2"/><circle cx="361.1" cy="143.0" r="1.2"/><circle cx="362.7" cy="142.0" r="1.2"/><circle cx="364.3" cy="142.5" r="1.2"/><circle cx="365.9" cy="141.4" r="1.2"/><circle cx="367.5" cy="143.8" r="1.2"/><circle cx="369.1" cy="142.3" r="1.2"/><circle cx="370.7" cy="143.3" r="1.2"/><circle cx="372.3" cy="141.9" r="1.2"/><circle cx="373.9" cy="142.0" r="1.2"/><circle cx="375.5" cy="147.2" r="1.2"/><circle cx="377.1" cy="144.7" r="1.2"/><circle cx="378.7" cy="147.3" r="1.2"/><circle cx="380.3" cy="148.2" r="1.2"/><circle cx="381.9" cy="148.9" r="1.2"/><circle cx="383.5" cy="150.3" r="1.2"/><circle cx="385.1" cy="153.7" r="1.2"/><circle cx="386.7" cy="153.3" r="1.2"/><circle cx="388.3" cy="154.8" r="1.2"/><circle cx="389.9" cy="156.4" r="1.2"/><circle cx="391.5" cy="159.6" r="1.2"/><circle cx="393.1" cy="159.6" r="1.2"/><circle cx="394.7" cy="159.9" r="1.2"/><circle cx="396.3" cy="158.8" r="1.2"/><circle cx="397.9" cy="158.0" r="1.2"/><circle cx="399.5" cy="163.0" r="1.2"/><circle cx="401.1" cy="164.2" r="1.2"/><circle cx="402.7" cy="163.4" r="1.2"/><circle cx="404.3" cy="164.9" r="1.2"/><circle cx="405.9" cy="164.5" r="1.2"/><circle cx="407.5" cy="163.3" r="1.2"/><circle cx="409.1" cy="162.3" r="1.2"/><circle cx="410.7" cy="159.1" r="1.2"/><circle cx="412.3" cy="162.2" r="1.2"/><circle cx="413.9" cy="157.0" r="1.2"/><circle cx="415.5" cy="160.4" r="1.2"/><circle cx="417.1" cy="159.1" r="1.2"/><circle cx="418.7" cy="158.5" r="1.2"/><circle cx="420.3" cy="155.8" r="1.2"/><circle cx="421.9" cy="152.7" r="1.2"/><circle cx="423.5" cy="147.5" r="1.2"/><circle cx="425.1" cy="142.5" r="1.2"/><circle cx="426.7" cy="138.1" r="1.2"/><circle cx="428.3" cy="130.1" r="1.2"/><circle cx="429.9" cy="122.3" r="1.2"/><circle cx="431.5" cy="113.3" r="1.2"/><circle cx="433.1" cy="102.1" r="1.2"/><circle cx="434.7" cy="91.5" r="1.2"/><circle cx="436.3" cy="82.1" r="1.2"/><circle cx="437.9" cy="73.4" r="1.2"/><circle cx="439.5" cy="67.2" r="1.2"/><circle cx="441.1" cy="62.6" r="1.2"/><circle cx="442.7" cy="58.0" r="1.2"/><circle cx="444.3" cy="53.8" r="1.2"/><circle cx="445.9" cy="51.9" r="1.2"/><circle cx="447.5" cy="50.7" r="1.2"/><circle cx="449.1" cy="52.0" r="1.2"/><circle cx="450.7" cy="56.7" r="1.2"/><circle cx="452.3" cy="61.7" r="1.2"/><circle cx="453.9" cy="69.3" r="1.2"/><circle cx="455.5" cy="77.8" r="1.2"/><circle cx="457.1" cy="86.9" r="1.2"/><circle cx="458.7" cy="95.2" r="1.2"/><circle cx="460.3" cy="105.4" r="1.2"/><circle cx="461.9" cy="116.8" r="1.2"/><circle cx="463.5" cy="125.4" r="1.2"/><circle cx="465.1" cy="133.4" r="1.2"/><circle cx="466.7" cy="139.2" r="1.2"/><circle cx="468.3" cy="144.9" r="1.2"/><circle cx="469.9" cy="147.2" r="1.2"/><circle cx="471.5" cy="152.4" r="1.2"/><circle cx="473.1" cy="155.8" r="1.2"/><circle cx="474.7" cy="159.7" r="1.2"/><circle cx="476.3" cy="162.3" r="1.2"/><circle cx="477.9" cy="165.9" r="1.2"/><circle cx="479.5" cy="170.3" r="1.2"/><circle cx="481.1" cy="171.3" r="1.2"/><circle cx="482.7" cy="173.7" r="1.2"/><circle cx="484.3" cy="174.5" r="1.2"/><circle cx="485.9" cy="178.1" r="1.2"/><circle cx="487.5" cy="176.8" r="1.2"/><circle cx="489.1" cy="173.5" r="1.2"/><circle cx="490.7" cy="177.0" r="1.2"/><circle cx="492.3" cy="175.5" r="1.2"/><circle cx="493.9" cy="173.9" r="1.2"/><circle cx="495.5" cy="179.6" r="1.2"/><circle cx="497.1" cy="183.8" r="1.2"/><circle cx="498.7" cy="182.3" r="1.2"/><circle cx="500.3" cy="180.9" r="1.2"/><circle cx="501.9" cy="182.1" r="1.2"/><circle cx="503.5" cy="186.7" r="1.2"/><circle cx="505.1" cy="185.8" r="1.2"/><circle cx="506.7" cy="186.4" r="1.2"/><circle cx="508.3" cy="187.0" r="1.2"/><circle cx="509.9" cy="188.0" r="1.2"/><circle cx="511.5" cy="190.1" r="1.2"/><circle cx="513.1" cy="190.3" r="1.2"/><circle cx="514.7" cy="190.3" r="1.2"/><circle cx="516.3" cy="188.6" r="1.2"/><circle cx="517.9" cy="191.9" r="1.2"/><circle cx="519.5" cy="190.3" r="1.2"/><circle cx="521.1" cy="194.0" r="1.2"/><circle cx="522.7" cy="190.3" r="1.2"/><circle cx="524.3" cy="192.8" r="1.2"/><circle cx="525.9" cy="193.6" r="1.2"/><circle cx="527.5" cy="191.7" r="1.2"/><circle cx="529.1" cy="197.7" r="1.2"/><circle cx="530.7" cy="197.8" r="1.2"/><circle cx="532.3" cy="194.8" r="1.2"/><circle cx="533.9" cy="197.5" r="1.2"/></g>
<rect x="336.6" y="14" width="198.0" height="192" fill="none" stroke="#a2a2a2" stroke-width="1.2"/>
<line x1="333.8" y1="190.10" x2="336.6" y2="190.10" stroke="#555" stroke-width="0.8"/>
<text x="331.2" y="192.9" font-size="8.1" text-anchor="end" font-weight="bold" fill="#000">7400</text>
<line x1="333.8" y1="163.02" x2="336.6" y2="163.02" stroke="#555" stroke-width="0.8"/>
<text x="331.2" y="165.82" font-size="8.1" text-anchor="end" font-weight="bold" fill="#000">7600</text>
<line x1="333.8" y1="135.94" x2="336.6" y2="135.94" stroke="#555" stroke-width="0.8"/>
<text x="331.2" y="138.74" font-size="8.1" text-anchor="end" font-weight="bold" fill="#000">7800</text>
<line x1="333.8" y1="108.85" x2="336.6" y2="108.85" stroke="#555" stroke-width="0.8"/>
<text x="331.2" y="111.65" font-size="8.1" text-anchor="end" font-weight="bold" fill="#000">8000</text>
<line x1="333.8" y1="81.77" x2="336.6" y2="81.77" stroke="#555" stroke-width="0.8"/>
<text x="331.2" y="84.57" font-size="8.1" text-anchor="end" font-weight="bold" fill="#000">8200</text>
<line x1="333.8" y1="54.68" x2="336.6" y2="54.68" stroke="#555" stroke-width="0.8"/>
<text x="331.2" y="57.48" font-size="8.1" text-anchor="end" font-weight="bold" fill="#000">8400</text>
<line x1="333.8" y1="27.60" x2="336.6" y2="27.60" stroke="#555" stroke-width="0.8"/>
<text x="331.2" y="30.4" font-size="8.1" text-anchor="end" font-weight="bold" fill="#000">8600</text>
<line x1="336.60" y1="206" x2="336.60" y2="209.2" stroke="#777" stroke-width="0.6"/>
<line x1="339.24" y1="206" x2="339.24" y2="208.0" stroke="#777" stroke-width="0.6"/>
<line x1="341.89" y1="206" x2="341.89" y2="208.0" stroke="#777" stroke-width="0.6"/>
<line x1="344.53" y1="206" x2="344.53" y2="208.0" stroke="#777" stroke-width="0.6"/>
<line x1="347.18" y1="206" x2="347.18" y2="208.0" stroke="#777" stroke-width="0.6"/>
<line x1="349.82" y1="206" x2="349.82" y2="208.0" stroke="#777" stroke-width="0.6"/>
<line x1="352.46" y1="206" x2="352.46" y2="208.0" stroke="#777" stroke-width="0.6"/>
<line x1="355.11" y1="206" x2="355.11" y2="208.0" stroke="#777" stroke-width="0.6"/>
<line x1="357.75" y1="206" x2="357.75" y2="208.0" stroke="#777" stroke-width="0.6"/>
<line x1="360.40" y1="206" x2="360.40" y2="208.0" stroke="#777" stroke-width="0.6"/>
<line x1="363.04" y1="206" x2="363.04" y2="209.2" stroke="#777" stroke-width="0.6"/>
<line x1="365.68" y1="206" x2="365.68" y2="208.0" stroke="#777" stroke-width="0.6"/>
<line x1="368.33" y1="206" x2="368.33" y2="208.0" stroke="#777" stroke-width="0.6"/>
<line x1="370.97" y1="206" x2="370.97" y2="208.0" stroke="#777" stroke-width="0.6"/>
<line x1="373.62" y1="206" x2="373.62" y2="208.0" stroke="#777" stroke-width="0.6"/>
<line x1="376.26" y1="206" x2="376.26" y2="208.0" stroke="#777" stroke-width="0.6"/>
<line x1="378.90" y1="206" x2="378.90" y2="208.0" stroke="#777" stroke-width="0.6"/>
<line x1="381.55" y1="206" x2="381.55" y2="208.0" stroke="#777" stroke-width="0.6"/>
<line x1="384.19" y1="206" x2="384.19" y2="208.0" stroke="#777" stroke-width="0.6"/>
<line x1="386.84" y1="206" x2="386.84" y2="208.0" stroke="#777" stroke-width="0.6"/>
<line x1="389.48" y1="206" x2="389.48" y2="209.2" stroke="#777" stroke-width="0.6"/>
<line x1="392.12" y1="206" x2="392.12" y2="208.0" stroke="#777" stroke-width="0.6"/>
<line x1="394.77" y1="206" x2="394.77" y2="208.0" stroke="#777" stroke-width="0.6"/>
<line x1="397.41" y1="206" x2="397.41" y2="208.0" stroke="#777" stroke-width="0.6"/>
<line x1="400.06" y1="206" x2="400.06" y2="208.0" stroke="#777" stroke-width="0.6"/>
<line x1="402.70" y1="206" x2="402.70" y2="208.0" stroke="#777" stroke-width="0.6"/>
<line x1="405.34" y1="206" x2="405.34" y2="208.0" stroke="#777" stroke-width="0.6"/>
<line x1="407.99" y1="206" x2="407.99" y2="208.0" stroke="#777" stroke-width="0.6"/>
<line x1="410.63" y1="206" x2="410.63" y2="208.0" stroke="#777" stroke-width="0.6"/>
<line x1="413.28" y1="206" x2="413.28" y2="208.0" stroke="#777" stroke-width="0.6"/>
<line x1="415.92" y1="206" x2="415.92" y2="209.2" stroke="#777" stroke-width="0.6"/>
<line x1="418.56" y1="206" x2="418.56" y2="208.0" stroke="#777" stroke-width="0.6"/>
<line x1="421.21" y1="206" x2="421.21" y2="208.0" stroke="#777" stroke-width="0.6"/>
<line x1="423.85" y1="206" x2="423.85" y2="208.0" stroke="#777" stroke-width="0.6"/>
<line x1="426.50" y1="206" x2="426.50" y2="208.0" stroke="#777" stroke-width="0.6"/>
<line x1="429.14" y1="206" x2="429.14" y2="208.0" stroke="#777" stroke-width="0.6"/>
<line x1="431.78" y1="206" x2="431.78" y2="208.0" stroke="#777" stroke-width="0.6"/>
<line x1="434.43" y1="206" x2="434.43" y2="208.0" stroke="#777" stroke-width="0.6"/>
<line x1="437.07" y1="206" x2="437.07" y2="208.0" stroke="#777" stroke-width="0.6"/>
<line x1="439.72" y1="206" x2="439.72" y2="208.0" stroke="#777" stroke-width="0.6"/>
<line x1="442.36" y1="206" x2="442.36" y2="209.2" stroke="#777" stroke-width="0.6"/>
<line x1="445.00" y1="206" x2="445.00" y2="208.0" stroke="#777" stroke-width="0.6"/>
<line x1="447.65" y1="206" x2="447.65" y2="208.0" stroke="#777" stroke-width="0.6"/>
<line x1="450.29" y1="206" x2="450.29" y2="208.0" stroke="#777" stroke-width="0.6"/>
<line x1="452.94" y1="206" x2="452.94" y2="208.0" stroke="#777" stroke-width="0.6"/>
<line x1="455.58" y1="206" x2="455.58" y2="208.0" stroke="#777" stroke-width="0.6"/>
<line x1="458.22" y1="206" x2="458.22" y2="208.0" stroke="#777" stroke-width="0.6"/>
<line x1="460.87" y1="206" x2="460.87" y2="208.0" stroke="#777" stroke-width="0.6"/>
<line x1="463.51" y1="206" x2="463.51" y2="208.0" stroke="#777" stroke-width="0.6"/>
<line x1="466.16" y1="206" x2="466.16" y2="208.0" stroke="#777" stroke-width="0.6"/>
<line x1="468.80" y1="206" x2="468.80" y2="209.2" stroke="#777" stroke-width="0.6"/>
<line x1="471.44" y1="206" x2="471.44" y2="208.0" stroke="#777" stroke-width="0.6"/>
<line x1="474.09" y1="206" x2="474.09" y2="208.0" stroke="#777" stroke-width="0.6"/>
<line x1="476.73" y1="206" x2="476.73" y2="208.0" stroke="#777" stroke-width="0.6"/>
<line x1="479.38" y1="206" x2="479.38" y2="208.0" stroke="#777" stroke-width="0.6"/>
<line x1="482.02" y1="206" x2="482.02" y2="208.0" stroke="#777" stroke-width="0.6"/>
<line x1="484.66" y1="206" x2="484.66" y2="208.0" stroke="#777" stroke-width="0.6"/>
<line x1="487.31" y1="206" x2="487.31" y2="208.0" stroke="#777" stroke-width="0.6"/>
<line x1="489.95" y1="206" x2="489.95" y2="208.0" stroke="#777" stroke-width="0.6"/>
<line x1="492.60" y1="206" x2="492.60" y2="208.0" stroke="#777" stroke-width="0.6"/>
<line x1="495.24" y1="206" x2="495.24" y2="209.2" stroke="#777" stroke-width="0.6"/>
<line x1="497.88" y1="206" x2="497.88" y2="208.0" stroke="#777" stroke-width="0.6"/>
<line x1="500.53" y1="206" x2="500.53" y2="208.0" stroke="#777" stroke-width="0.6"/>
<line x1="503.17" y1="206" x2="503.17" y2="208.0" stroke="#777" stroke-width="0.6"/>
<line x1="505.82" y1="206" x2="505.82" y2="208.0" stroke="#777" stroke-width="0.6"/>
<line x1="508.46" y1="206" x2="508.46" y2="208.0" stroke="#777" stroke-width="0.6"/>
<line x1="511.10" y1="206" x2="511.10" y2="208.0" stroke="#777" stroke-width="0.6"/>
<line x1="513.75" y1="206" x2="513.75" y2="208.0" stroke="#777" stroke-width="0.6"/>
<line x1="516.39" y1="206" x2="516.39" y2="208.0" stroke="#777" stroke-width="0.6"/>
<line x1="519.04" y1="206" x2="519.04" y2="208.0" stroke="#777" stroke-width="0.6"/>
<line x1="521.68" y1="206" x2="521.68" y2="209.2" stroke="#777" stroke-width="0.6"/>
<line x1="524.32" y1="206" x2="524.32" y2="208.0" stroke="#777" stroke-width="0.6"/>
<line x1="526.97" y1="206" x2="526.97" y2="208.0" stroke="#777" stroke-width="0.6"/>
<line x1="529.61" y1="206" x2="529.61" y2="208.0" stroke="#777" stroke-width="0.6"/>
<line x1="532.26" y1="206" x2="532.26" y2="208.0" stroke="#777" stroke-width="0.6"/>
<text x="336.6" y="217.6" font-size="8.1" text-anchor="middle" font-weight="bold" fill="#000">1080</text>
<text x="363.04" y="217.6" font-size="8.1" text-anchor="middle" font-weight="bold" fill="#000">1078</text>
<text x="389.48" y="217.6" font-size="8.1" text-anchor="middle" font-weight="bold" fill="#000">1076</text>
<text x="415.92" y="217.6" font-size="8.1" text-anchor="middle" font-weight="bold" fill="#000">1074</text>
<text x="442.36" y="217.6" font-size="8.1" text-anchor="middle" font-weight="bold" fill="#000">1072</text>
<text x="468.8" y="217.6" font-size="8.1" text-anchor="middle" font-weight="bold" fill="#000">1070</text>
<text x="495.24" y="217.6" font-size="8.1" text-anchor="middle" font-weight="bold" fill="#000">1068</text>
<text x="521.68" y="217.6" font-size="8.1" text-anchor="middle" font-weight="bold" fill="#000">1066</text>
<text x="435.6" y="232.2" font-size="9.8" text-anchor="middle" font-weight="bold" fill="#000" textLength="84.3" lengthAdjust="spacingAndGlyphs">Binding energy (eV)</text>
<text x="306.5" y="109.6" font-size="9.2" text-anchor="middle" font-weight="bold" fill="#000" textLength="89" lengthAdjust="spacingAndGlyphs" transform="rotate(-90 306.5 109.6)">Intensity (counts/s)</text>
<text transform="translate(281 39.8) scale(0.85 1)" font-size="38" fill="#000" stroke="#fff" stroke-width="0.3">B</text>
<rect x="345.5" y="18.5" width="27.2" height="14.3" fill="#fff" stroke="#777" stroke-width="0.8"/>
<text x="347.3" y="29.2" font-size="10" text-anchor="start" font-weight="normal" fill="#000" textLength="24.3" lengthAdjust="spacingAndGlyphs" stroke="#000" stroke-width="0.1">Na 1s</text>
<rect x="467.3" y="18.2" width="62.2" height="25.4" fill="#fff" stroke="#777" stroke-width="0.8"/>
<circle cx="475" cy="23.6" r="1.45" fill="#1a1ab0"/>
<line x1="469" y1="30.9" x2="479.5" y2="30.9" stroke="#4040b0" stroke-width="0.9"/>
<line x1="469" y1="38.5" x2="479.5" y2="38.5" stroke="#7080e0" stroke-width="0.9"/>
<text x="482.9" y="25.7" font-size="6" text-anchor="start" font-weight="normal" fill="#111" textLength="45.1" lengthAdjust="spacingAndGlyphs" stroke="#111" stroke-width="0.12">Experimental data</text>
<text x="482.9" y="32.9" font-size="6" text-anchor="start" font-weight="normal" fill="#111" textLength="42.7" lengthAdjust="spacingAndGlyphs" stroke="#111" stroke-width="0.12">Background_CPS</text>
<text x="482.9" y="40.5" font-size="6" text-anchor="start" font-weight="normal" fill="#111" textLength="35.3" lengthAdjust="spacingAndGlyphs" stroke="#111" stroke-width="0.12">Envelope_CPS</text>
<polygon points="127.50,416.56 128.00,416.52 128.50,416.48 129.00,416.44 129.50,416.38 130.00,416.31 130.50,416.23 131.00,416.14 131.50,416.03 132.00,415.91 132.50,415.77 133.00,415.60 133.50,415.42 134.00,415.21 134.50,414.97 135.00,414.70 135.50,414.40 136.00,414.07 136.50,413.69 137.00,413.27 137.50,412.80 138.00,412.29 138.50,411.72 139.00,411.09 139.50,410.39 140.00,409.64 140.50,408.81 141.00,407.91 141.50,406.93 142.00,405.88 142.50,404.74 143.00,403.51 143.50,402.18 144.00,400.76 144.50,399.23 145.00,397.60 145.50,395.85 146.00,394.00 146.50,392.03 147.00,389.94 147.50,387.73 148.00,385.39 148.50,382.94 149.00,380.37 149.50,377.67 150.00,374.86 150.50,371.93 151.00,368.90 151.50,365.75 152.00,362.50 152.50,359.15 153.00,355.71 153.50,352.20 154.00,348.61 154.50,344.96 155.00,341.26 155.50,337.52 156.00,333.77 156.50,330.00 157.00,326.25 157.50,322.51 158.00,318.80 158.50,315.15 159.00,311.57 159.50,308.06 160.00,304.66 160.50,301.37 161.00,298.21 161.50,295.20 162.00,292.35 162.50,289.68 163.00,287.19 163.50,284.91 164.00,282.85 164.50,281.02 165.00,279.42 165.50,278.07 166.00,276.98 166.50,276.15 167.00,275.58 167.50,275.28 168.00,275.26 168.50,275.50 169.00,275.98 169.50,276.70 170.00,277.67 170.50,278.88 171.00,280.33 171.50,282.00 172.00,283.89 172.50,285.99 173.00,288.29 173.50,290.78 174.00,293.44 174.50,296.27 175.00,299.26 175.50,302.38 176.00,305.63 176.50,308.99 177.00,312.45 177.50,315.99 178.00,319.60 178.50,323.26 179.00,326.96 179.50,330.69 180.00,334.43 180.50,338.18 181.00,341.92 181.50,345.63 182.00,349.32 182.50,352.96 183.00,356.55 183.50,360.08 184.00,363.54 184.50,366.92 185.00,370.21 185.50,373.42 186.00,376.53 186.50,379.55 187.00,382.46 187.50,385.26 188.00,387.95 188.50,390.54 189.00,393.01 189.50,395.37 190.00,397.62 190.50,399.76 191.00,401.79 191.50,403.71 192.00,405.53 192.50,407.24 193.00,408.86 193.50,410.37 194.00,411.79 194.50,413.12 195.00,414.36 195.50,415.52 196.00,416.59 196.50,417.59 197.00,418.52 197.50,419.37 198.00,420.16 198.50,420.89 199.00,421.56 199.50,422.17 200.00,422.73 200.50,423.24 201.00,423.71 201.50,424.14 202.00,424.53 202.50,424.88 203.00,425.19 203.50,425.48 204.00,425.74 204.50,425.98 205.00,426.19 205.00,427.68 204.50,427.67 204.00,427.65 203.50,427.63 203.00,427.62 202.50,427.60 202.00,427.58 201.50,427.56 201.00,427.54 200.50,427.52 200.00,427.49 199.50,427.47 199.00,427.44 198.50,427.41 198.00,427.38 197.50,427.35 197.00,427.32 196.50,427.29 196.00,427.26 195.50,427.22 195.00,427.19 194.50,427.16 194.00,427.12 193.50,427.09 193.00,427.05 192.50,427.01 192.00,426.98 191.50,426.94 191.00,426.91 190.50,426.87 190.00,426.84 189.50,426.80 189.00,426.76 188.50,426.73 188.00,426.69 187.50,426.66 187.00,426.62 186.50,426.58 186.00,426.54 185.50,426.50 185.00,426.46 184.50,426.42 184.00,426.38 183.50,426.33 183.00,426.29 182.50,426.24 182.00,426.19 181.50,426.14 181.00,426.09 180.50,426.04 180.00,425.98 179.50,425.92 179.00,425.86 178.50,425.80 178.00,425.73 177.50,425.65 177.00,425.57 176.50,425.49 176.00,425.40 175.50,425.31 175.00,425.22 174.50,425.13 174.00,425.03 173.50,424.93 173.00,424.82 172.50,424.72 172.00,424.62 171.50,424.51 171.00,424.40 170.50,424.30 170.00,424.19 169.50,424.08 169.00,423.98 168.50,423.87 168.00,423.76 167.50,423.65 167.00,423.53 166.50,423.41 166.00,423.29 165.50,423.16 165.00,423.04 164.50,422.91 164.00,422.78 163.50,422.65 163.00,422.52 162.50,422.39 162.00,422.26 161.50,422.12 161.00,421.99 160.50,421.86 160.00,421.73 159.50,421.60 159.00,421.47 158.50,421.34 158.00,421.22 157.50,421.09 157.00,420.97 156.50,420.85 156.00,420.73 155.50,420.62 155.00,420.51 154.50,420.40 154.00,420.29 153.50,420.19 153.00,420.08 152.50,419.97 152.00,419.86 151.50,419.75 151.00,419.64 150.50,419.52 150.00,419.41 149.50,419.31 149.00,419.20 148.50,419.09 148.00,418.99 147.50,418.88 147.00,418.78 146.50,418.68 146.00,418.58 145.50,418.49 145.00,418.40 144.50,418.31 144.00,418.22 143.50,418.14 143.00,418.07 142.50,417.99 142.00,417.92 141.50,417.86 141.00,417.80 140.50,417.75 140.00,417.70 139.50,417.66 139.00,417.61 138.50,417.57 138.00,417.53 137.50,417.49 137.00,417.45 136.50,417.41 136.00,417.37 135.50,417.34 135.00,417.30 134.50,417.27 134.00,417.23 133.50,417.20 133.00,417.17 132.50,417.14 132.00,417.11 131.50,417.08 131.00,417.06 130.50,417.03 130.00,417.01 129.50,416.98 129.00,416.96 128.50,416.94 128.00,416.91 127.50,416.89" fill="#000"/>
<polygon points="112.00,414.37 112.50,414.18 113.00,413.91 113.50,413.62 114.00,413.31 114.50,412.99 115.00,412.66 115.50,412.31 116.00,411.94 116.50,411.56 117.00,411.15 117.50,410.72 118.00,410.27 118.50,409.80 119.00,409.30 119.50,408.77 120.00,408.20 120.50,407.59 121.00,406.94 121.50,406.26 122.00,405.53 122.50,404.78 123.00,403.98 123.50,403.13 124.00,402.23 124.50,401.27 125.00,400.25 125.50,399.18 126.00,398.06 126.50,396.88 127.00,395.62 127.50,394.29 128.00,392.88 128.50,391.43 129.00,389.96 129.50,388.48 130.00,386.99 130.50,385.50 131.00,383.98 131.50,382.45 132.00,380.91 132.50,379.39 133.00,377.90 133.50,376.47 134.00,375.09 134.50,373.76 135.00,372.43 135.50,371.04 136.00,369.72 136.50,368.55 137.00,367.42 137.50,366.34 138.00,365.30 138.50,364.32 139.00,363.39 139.50,362.52 140.00,361.71 140.50,360.97 141.00,360.31 141.50,359.72 142.00,359.22 142.50,358.79 143.00,358.44 143.50,358.18 144.00,358.01 144.50,357.92 145.00,357.91 145.50,358.00 146.00,358.27 146.50,358.74 147.00,359.39 147.50,360.23 148.00,361.23 148.50,362.39 149.00,363.70 149.50,365.14 150.00,366.69 150.50,368.34 151.00,370.07 151.50,371.88 152.00,373.73 152.50,375.63 153.00,377.56 153.50,379.50 154.00,381.45 154.50,383.39 155.00,385.31 155.50,387.22 156.00,389.10 156.50,390.94 157.00,392.75 157.50,394.50 158.00,396.21 158.50,397.86 159.00,399.46 159.50,400.99 160.00,402.46 160.50,403.87 161.00,405.21 161.50,406.48 162.00,407.70 162.50,408.84 163.00,409.93 163.50,410.95 164.00,411.91 164.50,412.81 165.00,413.66 165.50,414.45 166.00,415.19 166.50,415.88 167.00,416.52 167.50,417.12 168.00,417.67 168.50,418.19 169.00,418.67 169.50,419.11 170.00,419.53 170.50,419.91 171.00,420.28 171.50,420.62 172.00,420.94 172.50,421.24 173.00,421.52 173.50,421.79 174.00,422.04 174.50,422.27 175.00,422.49 175.50,422.70 176.00,422.89 176.50,423.08 177.00,423.25 177.50,423.41 178.00,423.57 178.50,423.71 179.00,423.84 179.50,423.96 180.00,424.08 180.50,424.19 181.00,424.30 181.50,424.40 182.00,424.50 182.50,424.59 183.00,424.68 183.50,424.77 184.00,424.85 184.50,424.93 185.00,425.01 185.50,425.08 186.00,425.16 186.50,425.23 187.00,425.29 187.50,425.36 188.00,425.43 188.50,425.49 189.00,425.55 189.50,425.62 190.00,425.68 190.50,425.74 191.00,425.79 191.50,425.85 192.00,425.91 192.50,425.97 193.00,426.02 193.50,426.08 194.00,426.13 194.50,426.19 195.00,426.24 195.50,426.29 196.00,426.34 196.50,426.39 197.00,426.44 197.50,426.49 198.00,426.54 198.50,426.58 199.00,426.62 199.50,426.66 200.00,426.70 200.50,426.74 201.00,426.78 201.50,426.81 202.00,426.84 202.50,426.88 203.00,426.90 203.50,426.93 204.00,426.96 204.50,426.99 205.00,427.02 205.00,427.68 204.50,427.67 204.00,427.65 203.50,427.63 203.00,427.62 202.50,427.60 202.00,427.58 201.50,427.56 201.00,427.54 200.50,427.52 200.00,427.49 199.50,427.47 199.00,427.44 198.50,427.41 198.00,427.38 197.50,427.35 197.00,427.32 196.50,427.29 196.00,427.26 195.50,427.22 195.00,427.19 194.50,427.16 194.00,427.12 193.50,427.09 193.00,427.05 192.50,427.01 192.00,426.98 191.50,426.94 191.00,426.91 190.50,426.87 190.00,426.84 189.50,426.80 189.00,426.76 188.50,426.73 188.00,426.69 187.50,426.66 187.00,426.62 186.50,426.58 186.00,426.54 185.50,426.50 185.00,426.46 184.50,426.42 184.00,426.38 183.50,426.33 183.00,426.29 182.50,426.24 182.00,426.19 181.50,426.14 181.00,426.09 180.50,426.04 180.00,425.98 179.50,425.92 179.00,425.86 178.50,425.80 178.00,425.73 177.50,425.65 177.00,425.57 176.50,425.49 176.00,425.40 175.50,425.31 175.00,425.22 174.50,425.13 174.00,425.03 173.50,424.93 173.00,424.82 172.50,424.72 172.00,424.62 171.50,424.51 171.00,424.40 170.50,424.30 170.00,424.19 169.50,424.08 169.00,423.98 168.50,423.87 168.00,423.76 167.50,423.65 167.00,423.53 166.50,423.41 166.00,423.29 165.50,423.16 165.00,423.04 164.50,422.91 164.00,422.78 163.50,422.65 163.00,422.52 162.50,422.39 162.00,422.26 161.50,422.12 161.00,421.99 160.50,421.86 160.00,421.73 159.50,421.60 159.00,421.47 158.50,421.34 158.00,421.22 157.50,421.09 157.00,420.97 156.50,420.85 156.00,420.73 155.50,420.62 155.00,420.51 154.50,420.40 154.00,420.29 153.50,420.19 153.00,420.08 152.50,419.97 152.00,419.86 151.50,419.75 151.00,419.64 150.50,419.52 150.00,419.41 149.50,419.31 149.00,419.20 148.50,419.09 148.00,418.99 147.50,418.88 147.00,418.78 146.50,418.68 146.00,418.58 145.50,418.49 145.00,418.40 144.50,418.31 144.00,418.22 143.50,418.14 143.00,418.07 142.50,417.99 142.00,417.92 141.50,417.86 141.00,417.80 140.50,417.75 140.00,417.70 139.50,417.66 139.00,417.61 138.50,417.57 138.00,417.53 137.50,417.49 137.00,417.45 136.50,417.41 136.00,417.37 135.50,417.34 135.00,417.30 134.50,417.27 134.00,417.23 133.50,417.20 133.00,417.17 132.50,417.14 132.00,417.11 131.50,417.08 131.00,417.06 130.50,417.03 130.00,417.01 129.50,416.98 129.00,416.96 128.50,416.94 128.00,416.91 127.50,416.89 127.00,416.87 126.50,416.85 126.00,416.83 125.50,416.82 125.00,416.80 124.50,416.78 124.00,416.77 123.50,416.75 123.00,416.74 122.50,416.72 122.00,416.71 121.50,416.70 121.00,416.69 120.50,416.67 120.00,416.66 119.50,416.65 119.00,416.64 118.50,416.63 118.00,416.62 117.50,416.61 117.00,416.60 116.50,416.59 116.00,416.58 115.50,416.57 115.00,416.56 114.50,416.55 114.00,416.54 113.50,416.53 113.00,416.52 112.50,416.51 112.00,416.50" fill="#8a8a8a"/>
<polyline points="112.00,416.50 112.50,416.51 113.00,416.52 113.50,416.53 114.00,416.54 114.50,416.55 115.00,416.56 115.50,416.57 116.00,416.58 116.50,416.59 117.00,416.60 117.50,416.61 118.00,416.62 118.50,416.63 119.00,416.64 119.50,416.65 120.00,416.66 120.50,416.67 121.00,416.69 121.50,416.70 122.00,416.71 122.50,416.72 123.00,416.74 123.50,416.75 124.00,416.77 124.50,416.78 125.00,416.80 125.50,416.82 126.00,416.83 126.50,416.85 127.00,416.87 127.50,416.89 128.00,416.91 128.50,416.94 129.00,416.96 129.50,416.98 130.00,417.01 130.50,417.03 131.00,417.06 131.50,417.08 132.00,417.11 132.50,417.14 133.00,417.17 133.50,417.20 134.00,417.23 134.50,417.27 135.00,417.30 135.50,417.34 136.00,417.37 136.50,417.41 137.00,417.45 137.50,417.49 138.00,417.53 138.50,417.57 139.00,417.61 139.50,417.66 140.00,417.70 140.50,417.75 141.00,417.80 141.50,417.86 142.00,417.92 142.50,417.99 143.00,418.07 143.50,418.14 144.00,418.22 144.50,418.31 145.00,418.40 145.50,418.49 146.00,418.58 146.50,418.68 147.00,418.78 147.50,418.88 148.00,418.99 148.50,419.09 149.00,419.20 149.50,419.31 150.00,419.41 150.50,419.52 151.00,419.64 151.50,419.75 152.00,419.86 152.50,419.97 153.00,420.08 153.50,420.19 154.00,420.29 154.50,420.40 155.00,420.51 155.50,420.62 156.00,420.73 156.50,420.85 157.00,420.97 157.50,421.09 158.00,421.22 158.50,421.34 159.00,421.47 159.50,421.60 160.00,421.73 160.50,421.86 161.00,421.99 161.50,422.12 162.00,422.26 162.50,422.39 163.00,422.52 163.50,422.65 164.00,422.78 164.50,422.91 165.00,423.04 165.50,423.16 166.00,423.29 166.50,423.41 167.00,423.53 167.50,423.65 168.00,423.76 168.50,423.87 169.00,423.98 169.50,424.08 170.00,424.19 170.50,424.30 171.00,424.40 171.50,424.51 172.00,424.62 172.50,424.72 173.00,424.82 173.50,424.93 174.00,425.03 174.50,425.13 175.00,425.22 175.50,425.31 176.00,425.40 176.50,425.49 177.00,425.57 177.50,425.65 178.00,425.73 178.50,425.80 179.00,425.86 179.50,425.92 180.00,425.98 180.50,426.04 181.00,426.09 181.50,426.14 182.00,426.19 182.50,426.24 183.00,426.29 183.50,426.33 184.00,426.38 184.50,426.42 185.00,426.46 185.50,426.50 186.00,426.54 186.50,426.58 187.00,426.62 187.50,426.66 188.00,426.69 188.50,426.73 189.00,426.76 189.50,426.80 190.00,426.84 190.50,426.87 191.00,426.91 191.50,426.94 192.00,426.98 192.50,427.01 193.00,427.05 193.50,427.09 194.00,427.12 194.50,427.16 195.00,427.19 195.50,427.22 196.00,427.26 196.50,427.29 197.00,427.32 197.50,427.35 198.00,427.38 198.50,427.41 199.00,427.44 199.50,427.47 200.00,427.49 200.50,427.52 201.00,427.54 201.50,427.56 202.00,427.58 202.50,427.60 203.00,427.62 203.50,427.63 204.00,427.65 204.50,427.67 205.00,427.68" fill="none" stroke="#333" stroke-width="0.9" stroke-linejoin="round"/>
<polyline points="66.00,417.66 67.10,415.33 68.20,417.70 69.30,417.54 70.40,417.73 71.50,416.89 72.60,417.61 73.70,417.77 74.80,418.94 75.90,418.34 77.00,418.15 78.10,419.47 79.20,417.90 80.30,418.13 81.40,417.08 82.50,419.89 83.60,419.49 84.70,419.53 85.80,419.40 86.90,419.01 88.00,419.14 89.10,418.79 90.20,418.83 91.30,419.03 92.40,420.17 93.50,419.37 94.60,418.83 95.70,418.35 96.80,418.24 97.90,419.95 99.00,418.99 100.10,418.54 101.20,418.08 102.30,417.29 103.40,417.90 104.50,418.40 105.60,417.09 106.70,416.87 107.80,416.41 108.90,416.14 110.00,414.23 111.10,414.75 112.20,414.22 113.30,413.87 114.40,412.93 115.50,412.40 116.60,411.71 117.70,410.49 118.80,409.39 119.90,408.33 121.00,406.93 122.10,405.21 123.20,403.70 124.30,401.96 125.40,399.34 126.50,396.83 127.60,393.82 128.70,390.89 129.80,387.38 130.90,384.11 132.00,381.12 133.10,377.49 134.20,374.74 135.30,371.82 136.40,368.27 137.50,364.29 138.60,360.03 139.70,355.24 140.80,351.16 141.90,347.33 143.00,343.94 144.10,340.55 145.20,336.87 146.30,332.93 147.40,329.18 148.50,325.31 149.60,321.38 150.70,317.14 151.80,312.98 152.90,308.75 154.00,304.40 155.10,300.16 156.20,295.88 157.30,291.49 158.40,287.23 159.50,283.08 160.60,278.40 161.70,273.97 162.80,269.64 163.90,266.06 165.00,263.06 166.10,262.81 167.20,264.15 168.30,265.85 169.40,268.58 170.50,272.17 171.60,276.90 172.70,282.29 173.80,289.16 174.90,297.81 176.00,306.66 177.10,315.11 178.20,323.16 179.30,331.15 180.40,338.71 181.50,345.95 182.60,353.38 183.70,360.26 184.80,367.67 185.90,374.86 187.00,382.06 188.10,388.67 189.20,394.98 190.30,400.08 191.40,404.59 192.50,408.75 193.60,412.29 194.70,415.35 195.80,418.07 196.90,419.61 198.00,421.00 199.10,422.22 200.20,421.67 201.30,423.40 202.40,425.11 203.50,426.16 204.60,426.33 205.70,428.14 206.80,428.07 207.90,427.45 209.00,428.16 210.10,429.97 211.20,430.06 212.30,428.47 213.40,431.33 214.50,430.95 215.60,431.75 216.70,430.56 217.80,430.79 218.90,430.29 220.00,433.37 221.10,431.35 222.20,432.91 223.30,431.28 224.40,432.10 225.50,430.82 226.60,432.06 227.70,433.38 228.80,431.85 229.90,433.97 231.00,433.64 232.10,432.78 233.20,433.45 234.30,433.68 235.40,434.19 236.50,433.98 237.60,433.92 238.70,434.51 239.80,434.08 240.90,434.02 242.00,435.15 243.10,436.02 244.20,434.20 245.30,435.53 246.40,435.10 247.50,434.93 248.60,436.48 249.70,435.47 250.80,437.17 251.90,435.42 253.00,436.43 254.10,436.00 255.20,435.64 256.30,436.77 257.40,436.22 258.50,436.85" fill="none" stroke="#888" stroke-width="0.7" stroke-linejoin="round"/>
<g fill="#2a2a2a"><circle cx="66.0" cy="417.7" r="0.95"/><circle cx="67.1" cy="415.3" r="0.95"/><circle cx="68.2" cy="417.7" r="0.95"/><circle cx="69.3" cy="417.5" r="0.95"/><circle cx="70.4" cy="417.7" r="0.95"/><circle cx="71.5" cy="416.9" r="0.95"/><circle cx="72.6" cy="417.6" r="0.95"/><circle cx="73.7" cy="417.8" r="0.95"/><circle cx="74.8" cy="418.9" r="0.95"/><circle cx="75.9" cy="418.3" r="0.95"/><circle cx="77.0" cy="418.2" r="0.95"/><circle cx="78.1" cy="419.5" r="0.95"/><circle cx="79.2" cy="417.9" r="0.95"/><circle cx="80.3" cy="418.1" r="0.95"/><circle cx="81.4" cy="417.1" r="0.95"/><circle cx="82.5" cy="419.9" r="0.95"/><circle cx="83.6" cy="419.5" r="0.95"/><circle cx="84.7" cy="419.5" r="0.95"/><circle cx="85.8" cy="419.4" r="0.95"/><circle cx="86.9" cy="419.0" r="0.95"/><circle cx="88.0" cy="419.1" r="0.95"/><circle cx="89.1" cy="418.8" r="0.95"/><circle cx="90.2" cy="418.8" r="0.95"/><circle cx="91.3" cy="419.0" r="0.95"/><circle cx="92.4" cy="420.2" r="0.95"/><circle cx="93.5" cy="419.4" r="0.95"/><circle cx="94.6" cy="418.8" r="0.95"/><circle cx="95.7" cy="418.4" r="0.95"/><circle cx="96.8" cy="418.2" r="0.95"/><circle cx="97.9" cy="419.9" r="0.95"/><circle cx="99.0" cy="419.0" r="0.95"/><circle cx="100.1" cy="418.5" r="0.95"/><circle cx="101.2" cy="418.1" r="0.95"/><circle cx="102.3" cy="417.3" r="0.95"/><circle cx="103.4" cy="417.9" r="0.95"/><circle cx="104.5" cy="418.4" r="0.95"/><circle cx="105.6" cy="417.1" r="0.95"/><circle cx="106.7" cy="416.9" r="0.95"/><circle cx="107.8" cy="416.4" r="0.95"/><circle cx="108.9" cy="416.1" r="0.95"/><circle cx="110.0" cy="414.2" r="0.95"/><circle cx="111.1" cy="414.8" r="0.95"/><circle cx="112.2" cy="414.2" r="0.95"/><circle cx="113.3" cy="413.9" r="0.95"/><circle cx="114.4" cy="412.9" r="0.95"/><circle cx="115.5" cy="412.4" r="0.95"/><circle cx="116.6" cy="411.7" r="0.95"/><circle cx="117.7" cy="410.5" r="0.95"/><circle cx="118.8" cy="409.4" r="0.95"/><circle cx="119.9" cy="408.3" r="0.95"/><circle cx="121.0" cy="406.9" r="0.95"/><circle cx="122.1" cy="405.2" r="0.95"/><circle cx="123.2" cy="403.7" r="0.95"/><circle cx="124.3" cy="402.0" r="0.95"/><circle cx="125.4" cy="399.3" r="0.95"/><circle cx="126.5" cy="396.8" r="0.95"/><circle cx="127.6" cy="393.8" r="0.95"/><circle cx="128.7" cy="390.9" r="0.95"/><circle cx="129.8" cy="387.4" r="0.95"/><circle cx="130.9" cy="384.1" r="0.95"/><circle cx="132.0" cy="381.1" r="0.95"/><circle cx="133.1" cy="377.5" r="0.95"/><circle cx="134.2" cy="374.7" r="0.95"/><circle cx="135.3" cy="371.8" r="0.95"/><circle cx="136.4" cy="368.3" r="0.95"/><circle cx="137.5" cy="364.3" r="0.95"/><circle cx="138.6" cy="360.0" r="0.95"/><circle cx="139.7" cy="355.2" r="0.95"/><circle cx="140.8" cy="351.2" r="0.95"/><circle cx="141.9" cy="347.3" r="0.95"/><circle cx="143.0" cy="343.9" r="0.95"/><circle cx="144.1" cy="340.6" r="0.95"/><circle cx="145.2" cy="336.9" r="0.95"/><circle cx="146.3" cy="332.9" r="0.95"/><circle cx="147.4" cy="329.2" r="0.95"/><circle cx="148.5" cy="325.3" r="0.95"/><circle cx="149.6" cy="321.4" r="0.95"/><circle cx="150.7" cy="317.1" r="0.95"/><circle cx="151.8" cy="313.0" r="0.95"/><circle cx="152.9" cy="308.7" r="0.95"/><circle cx="154.0" cy="304.4" r="0.95"/><circle cx="155.1" cy="300.2" r="0.95"/><circle cx="156.2" cy="295.9" r="0.95"/><circle cx="157.3" cy="291.5" r="0.95"/><circle cx="158.4" cy="287.2" r="0.95"/><circle cx="159.5" cy="283.1" r="0.95"/><circle cx="160.6" cy="278.4" r="0.95"/><circle cx="161.7" cy="274.0" r="0.95"/><circle cx="162.8" cy="269.6" r="0.95"/><circle cx="163.9" cy="266.1" r="0.95"/><circle cx="165.0" cy="263.1" r="0.95"/><circle cx="166.1" cy="262.8" r="0.95"/><circle cx="167.2" cy="264.1" r="0.95"/><circle cx="168.3" cy="265.8" r="0.95"/><circle cx="169.4" cy="268.6" r="0.95"/><circle cx="170.5" cy="272.2" r="0.95"/><circle cx="171.6" cy="276.9" r="0.95"/><circle cx="172.7" cy="282.3" r="0.95"/><circle cx="173.8" cy="289.2" r="0.95"/><circle cx="174.9" cy="297.8" r="0.95"/><circle cx="176.0" cy="306.7" r="0.95"/><circle cx="177.1" cy="315.1" r="0.95"/><circle cx="178.2" cy="323.2" r="0.95"/><circle cx="179.3" cy="331.2" r="0.95"/><circle cx="180.4" cy="338.7" r="0.95"/><circle cx="181.5" cy="345.9" r="0.95"/><circle cx="182.6" cy="353.4" r="0.95"/><circle cx="183.7" cy="360.3" r="0.95"/><circle cx="184.8" cy="367.7" r="0.95"/><circle cx="185.9" cy="374.9" r="0.95"/><circle cx="187.0" cy="382.1" r="0.95"/><circle cx="188.1" cy="388.7" r="0.95"/><circle cx="189.2" cy="395.0" r="0.95"/><circle cx="190.3" cy="400.1" r="0.95"/><circle cx="191.4" cy="404.6" r="0.95"/><circle cx="192.5" cy="408.7" r="0.95"/><circle cx="193.6" cy="412.3" r="0.95"/><circle cx="194.7" cy="415.3" r="0.95"/><circle cx="195.8" cy="418.1" r="0.95"/><circle cx="196.9" cy="419.6" r="0.95"/><circle cx="198.0" cy="421.0" r="0.95"/><circle cx="199.1" cy="422.2" r="0.95"/><circle cx="200.2" cy="421.7" r="0.95"/><circle cx="201.3" cy="423.4" r="0.95"/><circle cx="202.4" cy="425.1" r="0.95"/><circle cx="203.5" cy="426.2" r="0.95"/><circle cx="204.6" cy="426.3" r="0.95"/><circle cx="205.7" cy="428.1" r="0.95"/><circle cx="206.8" cy="428.1" r="0.95"/><circle cx="207.9" cy="427.5" r="0.95"/><circle cx="209.0" cy="428.2" r="0.95"/><circle cx="210.1" cy="430.0" r="0.95"/><circle cx="211.2" cy="430.1" r="0.95"/><circle cx="212.3" cy="428.5" r="0.95"/><circle cx="213.4" cy="431.3" r="0.95"/><circle cx="214.5" cy="431.0" r="0.95"/><circle cx="215.6" cy="431.8" r="0.95"/><circle cx="216.7" cy="430.6" r="0.95"/><circle cx="217.8" cy="430.8" r="0.95"/><circle cx="218.9" cy="430.3" r="0.95"/><circle cx="220.0" cy="433.4" r="0.95"/><circle cx="221.1" cy="431.3" r="0.95"/><circle cx="222.2" cy="432.9" r="0.95"/><circle cx="223.3" cy="431.3" r="0.95"/><circle cx="224.4" cy="432.1" r="0.95"/><circle cx="225.5" cy="430.8" r="0.95"/><circle cx="226.6" cy="432.1" r="0.95"/><circle cx="227.7" cy="433.4" r="0.95"/><circle cx="228.8" cy="431.8" r="0.95"/><circle cx="229.9" cy="434.0" r="0.95"/><circle cx="231.0" cy="433.6" r="0.95"/><circle cx="232.1" cy="432.8" r="0.95"/><circle cx="233.2" cy="433.4" r="0.95"/><circle cx="234.3" cy="433.7" r="0.95"/><circle cx="235.4" cy="434.2" r="0.95"/><circle cx="236.5" cy="434.0" r="0.95"/><circle cx="237.6" cy="433.9" r="0.95"/><circle cx="238.7" cy="434.5" r="0.95"/><circle cx="239.8" cy="434.1" r="0.95"/><circle cx="240.9" cy="434.0" r="0.95"/><circle cx="242.0" cy="435.1" r="0.95"/><circle cx="243.1" cy="436.0" r="0.95"/><circle cx="244.2" cy="434.2" r="0.95"/><circle cx="245.3" cy="435.5" r="0.95"/><circle cx="246.4" cy="435.1" r="0.95"/><circle cx="247.5" cy="434.9" r="0.95"/><circle cx="248.6" cy="436.5" r="0.95"/><circle cx="249.7" cy="435.5" r="0.95"/><circle cx="250.8" cy="437.2" r="0.95"/><circle cx="251.9" cy="435.4" r="0.95"/><circle cx="253.0" cy="436.4" r="0.95"/><circle cx="254.1" cy="436.0" r="0.95"/><circle cx="255.2" cy="435.6" r="0.95"/><circle cx="256.3" cy="436.8" r="0.95"/><circle cx="257.4" cy="436.2" r="0.95"/><circle cx="258.5" cy="436.9" r="0.95"/></g>
<rect x="65.5" y="244.5" width="194.0" height="195.8" fill="none" stroke="#a2a2a2" stroke-width="1.2"/>
<line x1="61.7" y1="422.50" x2="65.5" y2="422.50" stroke="#555" stroke-width="0.8"/>
<text x="59.3" y="425.3" font-size="8.1" text-anchor="end" font-weight="bold" fill="#000" textLength="17.1" lengthAdjust="spacingAndGlyphs">2000</text>
<line x1="61.7" y1="378.00" x2="65.5" y2="378.00" stroke="#555" stroke-width="0.8"/>
<text x="59.3" y="380.8" font-size="8.1" text-anchor="end" font-weight="bold" fill="#000" textLength="17.1" lengthAdjust="spacingAndGlyphs">3000</text>
<line x1="61.7" y1="333.50" x2="65.5" y2="333.50" stroke="#555" stroke-width="0.8"/>
<text x="59.3" y="336.3" font-size="8.1" text-anchor="end" font-weight="bold" fill="#000" textLength="17.1" lengthAdjust="spacingAndGlyphs">4000</text>
<line x1="61.7" y1="289.00" x2="65.5" y2="289.00" stroke="#555" stroke-width="0.8"/>
<text x="59.3" y="291.8" font-size="8.1" text-anchor="end" font-weight="bold" fill="#000" textLength="17.1" lengthAdjust="spacingAndGlyphs">5000</text>
<line x1="61.7" y1="244.50" x2="65.5" y2="244.50" stroke="#555" stroke-width="0.8"/>
<text x="59.3" y="247.3" font-size="8.1" text-anchor="end" font-weight="bold" fill="#000" textLength="17.1" lengthAdjust="spacingAndGlyphs">6000</text>
<line x1="64.0" y1="435.85" x2="65.5" y2="435.85" stroke="#777" stroke-width="0.6"/>
<line x1="64.0" y1="431.40" x2="65.5" y2="431.40" stroke="#777" stroke-width="0.6"/>
<line x1="64.0" y1="426.95" x2="65.5" y2="426.95" stroke="#777" stroke-width="0.6"/>
<line x1="64.0" y1="418.05" x2="65.5" y2="418.05" stroke="#777" stroke-width="0.6"/>
<line x1="64.0" y1="413.60" x2="65.5" y2="413.60" stroke="#777" stroke-width="0.6"/>
<line x1="64.0" y1="409.15" x2="65.5" y2="409.15" stroke="#777" stroke-width="0.6"/>
<line x1="64.0" y1="404.70" x2="65.5" y2="404.70" stroke="#777" stroke-width="0.6"/>
<line x1="64.0" y1="400.25" x2="65.5" y2="400.25" stroke="#777" stroke-width="0.6"/>
<line x1="64.0" y1="395.80" x2="65.5" y2="395.80" stroke="#777" stroke-width="0.6"/>
<line x1="64.0" y1="391.35" x2="65.5" y2="391.35" stroke="#777" stroke-width="0.6"/>
<line x1="64.0" y1="386.90" x2="65.5" y2="386.90" stroke="#777" stroke-width="0.6"/>
<line x1="64.0" y1="382.45" x2="65.5" y2="382.45" stroke="#777" stroke-width="0.6"/>
<line x1="64.0" y1="373.55" x2="65.5" y2="373.55" stroke="#777" stroke-width="0.6"/>
<line x1="64.0" y1="369.10" x2="65.5" y2="369.10" stroke="#777" stroke-width="0.6"/>
<line x1="64.0" y1="364.65" x2="65.5" y2="364.65" stroke="#777" stroke-width="0.6"/>
<line x1="64.0" y1="360.20" x2="65.5" y2="360.20" stroke="#777" stroke-width="0.6"/>
<line x1="64.0" y1="355.75" x2="65.5" y2="355.75" stroke="#777" stroke-width="0.6"/>
<line x1="64.0" y1="351.30" x2="65.5" y2="351.30" stroke="#777" stroke-width="0.6"/>
<line x1="64.0" y1="346.85" x2="65.5" y2="346.85" stroke="#777" stroke-width="0.6"/>
<line x1="64.0" y1="342.40" x2="65.5" y2="342.40" stroke="#777" stroke-width="0.6"/>
<line x1="64.0" y1="337.95" x2="65.5" y2="337.95" stroke="#777" stroke-width="0.6"/>
<line x1="64.0" y1="329.05" x2="65.5" y2="329.05" stroke="#777" stroke-width="0.6"/>
<line x1="64.0" y1="324.60" x2="65.5" y2="324.60" stroke="#777" stroke-width="0.6"/>
<line x1="64.0" y1="320.15" x2="65.5" y2="320.15" stroke="#777" stroke-width="0.6"/>
<line x1="64.0" y1="315.70" x2="65.5" y2="315.70" stroke="#777" stroke-width="0.6"/>
<line x1="64.0" y1="311.25" x2="65.5" y2="311.25" stroke="#777" stroke-width="0.6"/>
<line x1="64.0" y1="306.80" x2="65.5" y2="306.80" stroke="#777" stroke-width="0.6"/>
<line x1="64.0" y1="302.35" x2="65.5" y2="302.35" stroke="#777" stroke-width="0.6"/>
<line x1="64.0" y1="297.90" x2="65.5" y2="297.90" stroke="#777" stroke-width="0.6"/>
<line x1="64.0" y1="293.45" x2="65.5" y2="293.45" stroke="#777" stroke-width="0.6"/>
<line x1="64.0" y1="284.55" x2="65.5" y2="284.55" stroke="#777" stroke-width="0.6"/>
<line x1="64.0" y1="280.10" x2="65.5" y2="280.10" stroke="#777" stroke-width="0.6"/>
<line x1="64.0" y1="275.65" x2="65.5" y2="275.65" stroke="#777" stroke-width="0.6"/>
<line x1="64.0" y1="271.20" x2="65.5" y2="271.20" stroke="#777" stroke-width="0.6"/>
<line x1="64.0" y1="266.75" x2="65.5" y2="266.75" stroke="#777" stroke-width="0.6"/>
<line x1="64.0" y1="262.30" x2="65.5" y2="262.30" stroke="#777" stroke-width="0.6"/>
<line x1="64.0" y1="257.85" x2="65.5" y2="257.85" stroke="#777" stroke-width="0.6"/>
<line x1="64.0" y1="253.40" x2="65.5" y2="253.40" stroke="#777" stroke-width="0.6"/>
<line x1="64.0" y1="248.95" x2="65.5" y2="248.95" stroke="#777" stroke-width="0.6"/>
<line x1="257.74" y1="440.3" x2="257.74" y2="442.1" stroke="#666" stroke-width="0.7"/>
<line x1="247.06" y1="440.3" x2="247.06" y2="442.1" stroke="#666" stroke-width="0.7"/>
<line x1="236.38" y1="440.3" x2="236.38" y2="442.1" stroke="#666" stroke-width="0.7"/>
<line x1="225.70" y1="440.3" x2="225.70" y2="443.8" stroke="#666" stroke-width="0.7"/>
<line x1="215.02" y1="440.3" x2="215.02" y2="442.1" stroke="#666" stroke-width="0.7"/>
<line x1="204.34" y1="440.3" x2="204.34" y2="442.1" stroke="#666" stroke-width="0.7"/>
<line x1="193.66" y1="440.3" x2="193.66" y2="442.1" stroke="#666" stroke-width="0.7"/>
<line x1="182.98" y1="440.3" x2="182.98" y2="442.1" stroke="#666" stroke-width="0.7"/>
<line x1="172.30" y1="440.3" x2="172.30" y2="443.8" stroke="#666" stroke-width="0.7"/>
<line x1="161.62" y1="440.3" x2="161.62" y2="442.1" stroke="#666" stroke-width="0.7"/>
<line x1="150.94" y1="440.3" x2="150.94" y2="442.1" stroke="#666" stroke-width="0.7"/>
<line x1="140.26" y1="440.3" x2="140.26" y2="442.1" stroke="#666" stroke-width="0.7"/>
<line x1="129.58" y1="440.3" x2="129.58" y2="442.1" stroke="#666" stroke-width="0.7"/>
<line x1="118.90" y1="440.3" x2="118.90" y2="443.8" stroke="#666" stroke-width="0.7"/>
<line x1="108.22" y1="440.3" x2="108.22" y2="442.1" stroke="#666" stroke-width="0.7"/>
<line x1="97.54" y1="440.3" x2="97.54" y2="442.1" stroke="#666" stroke-width="0.7"/>
<line x1="86.86" y1="440.3" x2="86.86" y2="442.1" stroke="#666" stroke-width="0.7"/>
<line x1="76.18" y1="440.3" x2="76.18" y2="442.1" stroke="#666" stroke-width="0.7"/>
<line x1="65.50" y1="440.3" x2="65.50" y2="443.8" stroke="#666" stroke-width="0.7"/>
<text x="65.5" y="453.8" font-size="8.1" text-anchor="middle" font-weight="bold" fill="#000" textLength="13" lengthAdjust="spacingAndGlyphs">540</text>
<text x="118.9" y="453.8" font-size="8.1" text-anchor="middle" font-weight="bold" fill="#000" textLength="13" lengthAdjust="spacingAndGlyphs">535</text>
<text x="172.3" y="453.8" font-size="8.1" text-anchor="middle" font-weight="bold" fill="#000" textLength="13" lengthAdjust="spacingAndGlyphs">530</text>
<text x="225.7" y="453.8" font-size="8.1" text-anchor="middle" font-weight="bold" fill="#000" textLength="13" lengthAdjust="spacingAndGlyphs">525</text>
<text transform="translate(12.6 270.6) scale(0.82 1)" font-size="38" fill="#000" stroke="#fff" stroke-width="0.3">C</text>
<text x="161.8" y="467" font-size="9" text-anchor="middle" font-weight="bold" fill="#000" textLength="75" lengthAdjust="spacingAndGlyphs">Binding energy (eV)</text>
<text x="34" y="342.2" font-size="8.3" text-anchor="middle" font-weight="bold" fill="#000" textLength="77" lengthAdjust="spacingAndGlyphs" transform="rotate(-90 34 342.2)">Intensity (counts/s)</text>
<rect x="70.3" y="247.5" width="18.7" height="11.8" fill="#fff" stroke="#777" stroke-width="0.8"/>
<text x="71.8" y="256.6" font-size="8.5" text-anchor="start" font-weight="normal" fill="#000" textLength="16.3" lengthAdjust="spacingAndGlyphs" stroke="#000" stroke-width="0.1">O 1s</text>
<rect x="184.3" y="246.5" width="71" height="45.8" fill="#fff" stroke="#777" stroke-width="0.8"/>
<circle cx="192.9" cy="251.7" r="1.85" fill="#222"/>
<line x1="187.5" y1="260.2" x2="198" y2="260.2" stroke="#aaa" stroke-width="0.9"/>
<line x1="187.5" y1="268.8" x2="198" y2="268.8" stroke="#222" stroke-width="0.9"/>
<rect x="190" y="274.2" width="5.8" height="5.6" fill="#000"/>
<rect x="190" y="283.8" width="5.8" height="5.6" fill="#777"/>
<text x="201.5" y="254.2" font-size="7" text-anchor="start" font-weight="normal" fill="#111" textLength="52.5" lengthAdjust="spacingAndGlyphs" stroke="#111" stroke-width="0.12">Experimental data</text>
<text x="201.5" y="262.7" font-size="7" text-anchor="start" font-weight="normal" fill="#111" textLength="26.2" lengthAdjust="spacingAndGlyphs" stroke="#111" stroke-width="0.12">Envelope</text>
<text x="201.5" y="271.3" font-size="7" text-anchor="start" font-weight="normal" fill="#111" textLength="34.4" lengthAdjust="spacingAndGlyphs" stroke="#111" stroke-width="0.12">Background</text>
<text x="201.5" y="279.5" font-size="7" text-anchor="start" font-weight="normal" fill="#111" textLength="13" lengthAdjust="spacingAndGlyphs" stroke="#111" stroke-width="0.12">TeO</text>
<text x="214.6" y="281" font-size="5" text-anchor="start" font-weight="normal" fill="#111" textLength="2.5" lengthAdjust="spacingAndGlyphs" stroke="#111" stroke-width="0.12">x</text>
<text x="201.5" y="289.1" font-size="7" text-anchor="start" font-weight="normal" fill="#111" textLength="11.5" lengthAdjust="spacingAndGlyphs" stroke="#111" stroke-width="0.12">O-C</text>
<polygon points="410.50,419.03 411.00,419.02 411.50,418.99 412.00,418.93 412.50,418.84 413.00,418.70 413.50,418.51 414.00,418.26 414.50,417.94 415.00,417.54 415.50,417.04 416.00,416.42 416.50,415.68 417.00,414.79 417.50,413.74 418.00,412.50 418.50,411.06 419.00,409.39 419.50,407.47 420.00,405.29 420.50,402.82 421.00,400.05 421.50,396.97 422.00,393.57 422.50,389.82 423.00,385.74 423.50,381.31 424.00,376.55 424.50,371.47 425.00,366.08 425.50,360.41 426.00,354.50 426.50,348.39 427.00,342.12 427.50,335.74 428.00,329.33 428.50,322.94 429.00,316.65 429.50,310.53 430.00,304.65 430.50,299.10 431.00,293.95 431.50,289.28 432.00,285.15 432.50,281.63 433.00,278.77 433.50,276.61 434.00,275.18 434.50,274.52 435.00,274.62 435.50,275.35 436.00,276.69 436.50,278.61 437.00,281.10 437.50,284.13 438.00,287.66 438.50,291.65 439.00,296.06 439.50,300.85 440.00,305.96 440.50,311.34 441.00,316.94 441.50,322.70 442.00,328.57 442.50,334.51 443.00,340.46 443.50,346.38 444.00,352.24 444.50,357.97 445.00,363.56 445.50,368.98 446.00,374.18 446.50,379.16 447.00,383.89 447.50,388.37 448.00,392.57 448.50,396.51 449.00,400.17 449.50,403.55 450.00,406.67 450.50,409.53 451.00,412.13 451.50,414.49 452.00,416.63 452.50,418.55 453.00,420.26 453.50,421.79 454.00,423.15 454.50,424.35 455.00,425.40 455.50,426.32 456.00,427.13 456.50,427.83 457.00,428.44 457.50,428.96 458.00,429.42 458.50,429.81 459.00,430.14 459.50,430.43 460.00,430.68 460.50,430.89 461.00,431.07 461.50,431.22 462.00,431.35 462.50,431.46 462.50,431.79 462.00,431.76 461.50,431.72 461.00,431.69 460.50,431.65 460.00,431.62 459.50,431.58 459.00,431.54 458.50,431.50 458.00,431.46 457.50,431.42 457.00,431.38 456.50,431.34 456.00,431.29 455.50,431.25 455.00,431.20 454.50,431.15 454.00,431.10 453.50,431.05 453.00,431.00 452.50,430.94 452.00,430.88 451.50,430.82 451.00,430.76 450.50,430.69 450.00,430.62 449.50,430.55 449.00,430.48 448.50,430.41 448.00,430.33 447.50,430.25 447.00,430.17 446.50,430.09 446.00,430.01 445.50,429.92 445.00,429.83 444.50,429.74 444.00,429.64 443.50,429.55 443.00,429.45 442.50,429.35 442.00,429.24 441.50,429.13 441.00,429.02 440.50,428.89 440.00,428.76 439.50,428.62 439.00,428.46 438.50,428.31 438.00,428.14 437.50,427.98 437.00,427.80 436.50,427.62 436.00,427.44 435.50,427.26 435.00,427.07 434.50,426.88 434.00,426.69 433.50,426.50 433.00,426.31 432.50,426.12 432.00,425.93 431.50,425.74 431.00,425.56 430.50,425.38 430.00,425.20 429.50,425.02 429.00,424.84 428.50,424.66 428.00,424.47 427.50,424.28 427.00,424.09 426.50,423.89 426.00,423.70 425.50,423.51 425.00,423.31 424.50,423.12 424.00,422.94 423.50,422.75 423.00,422.57 422.50,422.39 422.00,422.22 421.50,422.06 421.00,421.90 420.50,421.74 420.00,421.60 419.50,421.46 419.00,421.32 418.50,421.19 418.00,421.06 417.50,420.93 417.00,420.81 416.50,420.68 416.00,420.56 415.50,420.45 415.00,420.33 414.50,420.22 414.00,420.11 413.50,420.00 413.00,419.89 412.50,419.79 412.00,419.69 411.50,419.59 411.00,419.49 410.50,419.39" fill="#000"/>
<polygon points="434.50,426.56 435.00,426.73 435.50,426.90 436.00,427.05 436.50,427.21 437.00,427.35 437.50,427.49 438.00,427.62 438.50,427.75 439.00,427.86 439.50,427.96 440.00,428.04 440.50,428.12 441.00,428.18 441.50,428.22 442.00,428.25 442.50,428.26 443.00,428.27 443.50,428.26 444.00,428.25 444.50,428.22 445.00,428.19 445.50,428.14 446.00,428.07 446.50,428.00 447.00,427.91 447.50,427.80 448.00,427.68 448.50,427.55 449.00,427.40 449.50,427.24 450.00,427.06 450.50,426.86 451.00,426.65 451.50,426.43 452.00,426.18 452.50,425.93 453.00,425.65 453.50,425.36 454.00,425.06 454.50,424.74 455.00,424.41 455.50,424.07 456.00,423.71 456.50,423.35 457.00,422.98 457.50,422.60 458.00,422.21 458.50,421.82 459.00,421.42 459.50,421.03 460.00,420.63 460.50,420.23 461.00,419.84 461.50,419.45 462.00,419.07 462.50,418.69 463.00,418.33 463.50,417.98 464.00,417.65 464.50,417.33 465.00,417.03 465.50,416.75 466.00,416.49 466.50,416.26 467.00,416.05 467.50,415.87 468.00,415.72 468.50,415.59 469.00,415.50 469.50,415.44 470.00,415.42 470.50,415.42 471.00,415.47 471.50,415.57 472.00,415.72 472.50,415.92 473.00,416.17 473.50,416.47 474.00,416.81 474.50,417.19 475.00,417.61 475.50,418.06 476.00,418.55 476.50,419.06 477.00,419.59 477.50,420.14 478.00,420.71 478.50,421.29 479.00,421.87 479.50,422.46 480.00,423.04 480.50,423.63 481.00,424.20 481.50,424.76 482.00,425.32 482.50,425.85 483.00,426.37 483.50,426.87 484.00,427.35 484.50,427.80 485.00,428.24 485.50,428.65 486.00,429.03 486.50,429.40 487.00,429.74 487.50,430.06 488.00,430.35 488.50,430.62 489.00,430.87 489.50,431.10 490.00,431.31 490.50,431.51 491.00,431.68 491.50,431.84 492.00,431.98 492.00,432.90 491.50,432.89 491.00,432.88 490.50,432.86 490.00,432.85 489.50,432.84 489.00,432.83 488.50,432.81 488.00,432.80 487.50,432.79 487.00,432.77 486.50,432.76 486.00,432.74 485.50,432.73 485.00,432.72 484.50,432.70 484.00,432.69 483.50,432.67 483.00,432.66 482.50,432.65 482.00,432.63 481.50,432.62 481.00,432.60 480.50,432.59 480.00,432.57 479.50,432.55 479.00,432.54 478.50,432.52 478.00,432.51 477.50,432.49 477.00,432.47 476.50,432.46 476.00,432.44 475.50,432.42 475.00,432.40 474.50,432.38 474.00,432.37 473.50,432.35 473.00,432.33 472.50,432.31 472.00,432.29 471.50,432.27 471.00,432.24 470.50,432.22 470.00,432.20 469.50,432.18 469.00,432.15 468.50,432.13 468.00,432.11 467.50,432.08 467.00,432.05 466.50,432.03 466.00,432.00 465.50,431.97 465.00,431.94 464.50,431.92 464.00,431.89 463.50,431.85 463.00,431.82 462.50,431.79 462.00,431.76 461.50,431.72 461.00,431.69 460.50,431.65 460.00,431.62 459.50,431.58 459.00,431.54 458.50,431.50 458.00,431.46 457.50,431.42 457.00,431.38 456.50,431.34 456.00,431.29 455.50,431.25 455.00,431.20 454.50,431.15 454.00,431.10 453.50,431.05 453.00,431.00 452.50,430.94 452.00,430.88 451.50,430.82 451.00,430.76 450.50,430.69 450.00,430.62 449.50,430.55 449.00,430.48 448.50,430.41 448.00,430.33 447.50,430.25 447.00,430.17 446.50,430.09 446.00,430.01 445.50,429.92 445.00,429.83 444.50,429.74 444.00,429.64 443.50,429.55 443.00,429.45 442.50,429.35 442.00,429.24 441.50,429.13 441.00,429.02 440.50,428.89 440.00,428.76 439.50,428.62 439.00,428.46 438.50,428.31 438.00,428.14 437.50,427.98 437.00,427.80 436.50,427.62 436.00,427.44 435.50,427.26 435.00,427.07 434.50,426.88" fill="#8c8c8c"/>
<polygon points="403.50,417.86 404.00,417.84 404.50,417.80 405.00,417.73 405.50,417.62 406.00,417.48 406.50,417.28 407.00,417.02 407.50,416.70 408.00,416.29 408.50,415.80 409.00,415.21 409.50,414.50 410.00,413.68 410.50,412.72 411.00,411.62 411.50,410.37 412.00,408.98 412.50,407.42 413.00,405.71 413.50,403.85 414.00,401.85 414.50,399.72 415.00,397.47 415.50,395.12 416.00,392.71 416.50,390.27 417.00,387.82 417.50,385.40 418.00,383.05 418.50,380.81 419.00,378.73 419.50,376.83 420.00,375.17 420.50,373.77 421.00,372.68 421.50,371.91 422.00,371.48 422.50,371.40 423.00,371.73 423.50,372.57 424.00,373.90 424.50,375.68 425.00,377.86 425.50,380.40 426.00,383.23 426.50,386.27 427.00,389.46 427.50,392.73 428.00,396.00 428.50,399.23 429.00,402.36 429.50,405.34 430.00,408.14 430.50,410.74 431.00,413.12 431.50,415.28 432.00,417.22 432.50,418.93 433.00,420.44 433.50,421.76 434.00,422.90 434.50,423.88 435.00,424.71 435.50,425.43 436.00,426.04 436.50,426.55 437.00,427.00 437.50,427.37 438.00,427.70 438.50,427.98 438.50,428.31 438.00,428.14 437.50,427.98 437.00,427.80 436.50,427.62 436.00,427.44 435.50,427.26 435.00,427.07 434.50,426.88 434.00,426.69 433.50,426.50 433.00,426.31 432.50,426.12 432.00,425.93 431.50,425.74 431.00,425.56 430.50,425.38 430.00,425.20 429.50,425.02 429.00,424.84 428.50,424.66 428.00,424.47 427.50,424.28 427.00,424.09 426.50,423.89 426.00,423.70 425.50,423.51 425.00,423.31 424.50,423.12 424.00,422.94 423.50,422.75 423.00,422.57 422.50,422.39 422.00,422.22 421.50,422.06 421.00,421.90 420.50,421.74 420.00,421.60 419.50,421.46 419.00,421.32 418.50,421.19 418.00,421.06 417.50,420.93 417.00,420.81 416.50,420.68 416.00,420.56 415.50,420.45 415.00,420.33 414.50,420.22 414.00,420.11 413.50,420.00 413.00,419.89 412.50,419.79 412.00,419.69 411.50,419.59 411.00,419.49 410.50,419.39 410.00,419.30 409.50,419.21 409.00,419.12 408.50,419.03 408.00,418.94 407.50,418.85 407.00,418.76 406.50,418.67 406.00,418.59 405.50,418.50 405.00,418.42 404.50,418.34 404.00,418.26 403.50,418.18" fill="#8c8c8c"/>
<polygon points="394.50,416.67 395.00,416.61 395.50,416.52 396.00,416.39 396.50,416.21 397.00,415.98 397.50,415.69 398.00,415.33 398.50,414.88 399.00,414.33 399.50,413.68 400.00,412.91 400.50,412.02 401.00,411.01 401.50,409.85 402.00,408.57 402.50,407.16 403.00,405.64 403.50,404.01 404.00,402.29 404.50,400.51 405.00,398.71 405.50,396.90 406.00,395.13 406.50,393.44 407.00,391.87 407.50,390.45 408.00,389.22 408.50,388.22 409.00,387.47 409.50,387.00 410.00,386.82 410.50,386.94 411.00,387.32 411.50,387.95 412.00,388.82 412.50,389.92 413.00,391.21 413.50,392.68 414.00,394.29 414.50,396.02 415.00,397.82 415.50,399.68 416.00,401.56 416.50,403.42 417.00,405.26 417.50,407.04 418.00,408.74 418.50,410.36 419.00,411.87 419.50,413.28 420.00,414.57 420.50,415.76 421.00,416.84 421.50,417.81 422.00,418.69 422.50,419.48 423.00,420.19 423.50,420.81 424.00,421.38 424.50,421.88 425.00,422.33 425.50,422.73 426.00,423.09 426.50,423.42 427.00,423.72 427.00,424.09 426.50,423.89 426.00,423.70 425.50,423.51 425.00,423.31 424.50,423.12 424.00,422.94 423.50,422.75 423.00,422.57 422.50,422.39 422.00,422.22 421.50,422.06 421.00,421.90 420.50,421.74 420.00,421.60 419.50,421.46 419.00,421.32 418.50,421.19 418.00,421.06 417.50,420.93 417.00,420.81 416.50,420.68 416.00,420.56 415.50,420.45 415.00,420.33 414.50,420.22 414.00,420.11 413.50,420.00 413.00,419.89 412.50,419.79 412.00,419.69 411.50,419.59 411.00,419.49 410.50,419.39 410.00,419.30 409.50,419.21 409.00,419.12 408.50,419.03 408.00,418.94 407.50,418.85 407.00,418.76 406.50,418.67 406.00,418.59 405.50,418.50 405.00,418.42 404.50,418.34 404.00,418.26 403.50,418.18 403.00,418.10 402.50,418.02 402.00,417.95 401.50,417.87 401.00,417.80 400.50,417.73 400.00,417.66 399.50,417.59 399.00,417.53 398.50,417.46 398.00,417.40 397.50,417.34 397.00,417.28 396.50,417.22 396.00,417.17 395.50,417.11 395.00,417.06 394.50,417.02" fill="#c8c8c8"/>
<polyline points="392.00,416.80 392.50,416.84 393.00,416.88 393.50,416.92 394.00,416.97 394.50,417.02 395.00,417.06 395.50,417.11 396.00,417.17 396.50,417.22 397.00,417.28 397.50,417.34 398.00,417.40 398.50,417.46 399.00,417.53 399.50,417.59 400.00,417.66 400.50,417.73 401.00,417.80 401.50,417.87 402.00,417.95 402.50,418.02 403.00,418.10 403.50,418.18 404.00,418.26 404.50,418.34 405.00,418.42 405.50,418.50 406.00,418.59 406.50,418.67 407.00,418.76 407.50,418.85 408.00,418.94 408.50,419.03 409.00,419.12 409.50,419.21 410.00,419.30 410.50,419.39 411.00,419.49 411.50,419.59 412.00,419.69 412.50,419.79 413.00,419.89 413.50,420.00 414.00,420.11 414.50,420.22 415.00,420.33 415.50,420.45 416.00,420.56 416.50,420.68 417.00,420.81 417.50,420.93 418.00,421.06 418.50,421.19 419.00,421.32 419.50,421.46 420.00,421.60 420.50,421.74 421.00,421.90 421.50,422.06 422.00,422.22 422.50,422.39 423.00,422.57 423.50,422.75 424.00,422.94 424.50,423.12 425.00,423.31 425.50,423.51 426.00,423.70 426.50,423.89 427.00,424.09 427.50,424.28 428.00,424.47 428.50,424.66 429.00,424.84 429.50,425.02 430.00,425.20 430.50,425.38 431.00,425.56 431.50,425.74 432.00,425.93 432.50,426.12 433.00,426.31 433.50,426.50 434.00,426.69 434.50,426.88 435.00,427.07 435.50,427.26 436.00,427.44 436.50,427.62 437.00,427.80 437.50,427.98 438.00,428.14 438.50,428.31 439.00,428.46 439.50,428.62 440.00,428.76 440.50,428.89 441.00,429.02 441.50,429.13 442.00,429.24 442.50,429.35 443.00,429.45 443.50,429.55 444.00,429.64 444.50,429.74 445.00,429.83 445.50,429.92 446.00,430.01 446.50,430.09 447.00,430.17 447.50,430.25 448.00,430.33 448.50,430.41 449.00,430.48 449.50,430.55 450.00,430.62 450.50,430.69 451.00,430.76 451.50,430.82 452.00,430.88 452.50,430.94 453.00,431.00 453.50,431.05 454.00,431.10 454.50,431.15 455.00,431.20 455.50,431.25 456.00,431.29 456.50,431.34 457.00,431.38 457.50,431.42 458.00,431.46 458.50,431.50 459.00,431.54 459.50,431.58 460.00,431.62 460.50,431.65 461.00,431.69 461.50,431.72 462.00,431.76 462.50,431.79 463.00,431.82 463.50,431.85 464.00,431.89 464.50,431.92 465.00,431.94 465.50,431.97 466.00,432.00 466.50,432.03 467.00,432.05 467.50,432.08 468.00,432.11 468.50,432.13 469.00,432.15 469.50,432.18 470.00,432.20 470.50,432.22 471.00,432.24 471.50,432.27 472.00,432.29 472.50,432.31 473.00,432.33 473.50,432.35 474.00,432.37 474.50,432.38 475.00,432.40 475.50,432.42 476.00,432.44 476.50,432.46 477.00,432.47 477.50,432.49 478.00,432.51 478.50,432.52 479.00,432.54 479.50,432.55 480.00,432.57 480.50,432.59 481.00,432.60 481.50,432.62 482.00,432.63 482.50,432.65 483.00,432.66 483.50,432.67 484.00,432.69 484.50,432.70 485.00,432.72 485.50,432.73 486.00,432.74 486.50,432.76 487.00,432.77 487.50,432.79 488.00,432.80 488.50,432.81 489.00,432.83 489.50,432.84 490.00,432.85 490.50,432.86 491.00,432.88 491.50,432.89 492.00,432.90" fill="none" stroke="#444" stroke-width="0.9" stroke-linejoin="round"/>
<polyline points="330.50,409.61 331.65,408.89 332.80,410.02 333.95,410.40 335.10,411.43 336.25,409.96 337.40,410.92 338.55,409.56 339.70,411.83 340.85,410.37 342.00,409.79 343.15,411.42 344.30,412.51 345.45,410.18 346.60,410.60 347.75,410.93 348.90,410.61 350.05,412.00 351.20,410.98 352.35,411.10 353.50,412.35 354.65,411.29 355.80,412.58 356.95,411.60 358.10,411.70 359.25,411.48 360.40,415.13 361.55,413.46 362.70,414.20 363.85,414.10 365.00,414.32 366.15,414.16 367.30,415.66 368.45,412.76 369.60,412.00 370.75,412.18 371.90,411.57 373.05,413.15 374.20,412.98 375.35,411.21 376.50,410.77 377.65,411.76 378.80,413.51 379.95,409.98 381.10,413.33 382.25,412.27 383.40,414.58 384.55,413.09 385.70,414.22 386.85,413.60 388.00,414.68 389.15,417.45 390.30,417.53 391.45,416.87 392.60,416.66 393.75,415.68 394.90,416.76 396.05,416.65 397.20,415.91 398.35,414.54 399.50,411.72 400.65,408.58 401.80,405.27 402.95,402.59 404.10,399.93 405.25,396.72 406.40,393.44 407.55,389.82 408.70,385.45 409.85,381.18 411.00,377.58 412.15,374.03 413.30,370.83 414.45,366.74 415.60,362.37 416.75,357.48 417.90,352.16 419.05,346.44 420.20,340.51 421.35,334.06 422.50,327.65 423.65,321.08 424.80,314.16 425.95,307.39 427.10,299.77 428.25,292.55 429.40,285.50 430.55,278.43 431.70,273.55 432.85,269.72 434.00,267.63 435.15,268.94 436.30,274.13 437.45,282.41 438.60,292.59 439.75,303.99 440.90,317.07 442.05,331.55 443.20,347.39 444.35,363.05 445.50,376.10 446.65,386.35 447.80,395.03 448.95,401.85 450.10,408.02 451.25,411.62 452.40,414.12 453.55,415.68 454.70,415.78 455.85,416.66 457.00,417.47 458.15,417.05 459.30,416.50 460.45,414.53 461.60,415.95 462.75,416.12 463.90,415.63 465.05,414.59 466.20,412.62 467.35,414.55 468.50,413.33 469.65,411.06 470.80,413.71 471.95,412.23 473.10,412.76 474.25,413.83 475.40,416.13 476.55,415.30 477.70,416.64 478.85,419.04 480.00,420.44 481.15,420.72 482.30,422.38 483.45,423.01 484.60,424.92 485.75,427.27 486.90,428.51 488.05,429.37 489.20,431.08 490.35,430.18 491.50,431.41 492.65,432.63 493.80,432.95 494.95,433.79 496.10,433.54 497.25,433.22 498.40,434.10 499.55,433.13 500.70,432.81 501.85,435.06 503.00,434.72 504.15,435.28 505.30,433.67 506.45,435.05 507.60,435.00 508.75,434.88 509.90,433.71 511.05,435.49 512.20,436.60 513.35,436.12 514.50,435.20 515.65,435.68 516.80,436.31 517.95,433.07 519.10,435.36 520.25,435.86 521.40,435.87 522.55,436.67 523.70,436.04 524.85,435.15 526.00,434.93 527.15,435.07 528.30,433.50 529.45,433.52 530.60,433.92 531.75,434.40 532.90,432.04 534.05,431.72 535.20,431.55 536.35,432.21 537.50,430.61 538.65,431.65" fill="none" stroke="#777" stroke-width="0.7" stroke-linejoin="round"/>
<g fill="#000"><circle cx="330.5" cy="409.6" r="1.0"/><circle cx="331.6" cy="408.9" r="1.0"/><circle cx="332.8" cy="410.0" r="1.0"/><circle cx="333.9" cy="410.4" r="1.0"/><circle cx="335.1" cy="411.4" r="1.0"/><circle cx="336.2" cy="410.0" r="1.0"/><circle cx="337.4" cy="410.9" r="1.0"/><circle cx="338.5" cy="409.6" r="1.0"/><circle cx="339.7" cy="411.8" r="1.0"/><circle cx="340.8" cy="410.4" r="1.0"/><circle cx="342.0" cy="409.8" r="1.0"/><circle cx="343.1" cy="411.4" r="1.0"/><circle cx="344.3" cy="412.5" r="1.0"/><circle cx="345.4" cy="410.2" r="1.0"/><circle cx="346.6" cy="410.6" r="1.0"/><circle cx="347.7" cy="410.9" r="1.0"/><circle cx="348.9" cy="410.6" r="1.0"/><circle cx="350.0" cy="412.0" r="1.0"/><circle cx="351.2" cy="411.0" r="1.0"/><circle cx="352.3" cy="411.1" r="1.0"/><circle cx="353.5" cy="412.4" r="1.0"/><circle cx="354.6" cy="411.3" r="1.0"/><circle cx="355.8" cy="412.6" r="1.0"/><circle cx="356.9" cy="411.6" r="1.0"/><circle cx="358.1" cy="411.7" r="1.0"/><circle cx="359.2" cy="411.5" r="1.0"/><circle cx="360.4" cy="415.1" r="1.0"/><circle cx="361.5" cy="413.5" r="1.0"/><circle cx="362.7" cy="414.2" r="1.0"/><circle cx="363.8" cy="414.1" r="1.0"/><circle cx="365.0" cy="414.3" r="1.0"/><circle cx="366.1" cy="414.2" r="1.0"/><circle cx="367.3" cy="415.7" r="1.0"/><circle cx="368.4" cy="412.8" r="1.0"/><circle cx="369.6" cy="412.0" r="1.0"/><circle cx="370.7" cy="412.2" r="1.0"/><circle cx="371.9" cy="411.6" r="1.0"/><circle cx="373.0" cy="413.1" r="1.0"/><circle cx="374.2" cy="413.0" r="1.0"/><circle cx="375.3" cy="411.2" r="1.0"/><circle cx="376.5" cy="410.8" r="1.0"/><circle cx="377.6" cy="411.8" r="1.0"/><circle cx="378.8" cy="413.5" r="1.0"/><circle cx="379.9" cy="410.0" r="1.0"/><circle cx="381.1" cy="413.3" r="1.0"/><circle cx="382.2" cy="412.3" r="1.0"/><circle cx="383.4" cy="414.6" r="1.0"/><circle cx="384.5" cy="413.1" r="1.0"/><circle cx="385.7" cy="414.2" r="1.0"/><circle cx="386.8" cy="413.6" r="1.0"/><circle cx="388.0" cy="414.7" r="1.0"/><circle cx="389.1" cy="417.4" r="1.0"/><circle cx="390.3" cy="417.5" r="1.0"/><circle cx="391.4" cy="416.9" r="1.0"/><circle cx="392.6" cy="416.7" r="1.0"/><circle cx="393.7" cy="415.7" r="1.0"/><circle cx="394.9" cy="416.8" r="1.0"/><circle cx="396.0" cy="416.6" r="1.0"/><circle cx="397.2" cy="415.9" r="1.0"/><circle cx="398.3" cy="414.5" r="1.0"/><circle cx="399.5" cy="411.7" r="1.0"/><circle cx="400.6" cy="408.6" r="1.0"/><circle cx="401.8" cy="405.3" r="1.0"/><circle cx="402.9" cy="402.6" r="1.0"/><circle cx="404.1" cy="399.9" r="1.0"/><circle cx="405.2" cy="396.7" r="1.0"/><circle cx="406.4" cy="393.4" r="1.0"/><circle cx="407.5" cy="389.8" r="1.0"/><circle cx="408.7" cy="385.4" r="1.0"/><circle cx="409.8" cy="381.2" r="1.0"/><circle cx="411.0" cy="377.6" r="1.0"/><circle cx="412.1" cy="374.0" r="1.0"/><circle cx="413.3" cy="370.8" r="1.0"/><circle cx="414.4" cy="366.7" r="1.0"/><circle cx="415.6" cy="362.4" r="1.0"/><circle cx="416.7" cy="357.5" r="1.0"/><circle cx="417.9" cy="352.2" r="1.0"/><circle cx="419.0" cy="346.4" r="1.0"/><circle cx="420.2" cy="340.5" r="1.0"/><circle cx="421.3" cy="334.1" r="1.0"/><circle cx="422.5" cy="327.7" r="1.0"/><circle cx="423.6" cy="321.1" r="1.0"/><circle cx="424.8" cy="314.2" r="1.0"/><circle cx="425.9" cy="307.4" r="1.0"/><circle cx="427.1" cy="299.8" r="1.0"/><circle cx="428.2" cy="292.5" r="1.0"/><circle cx="429.4" cy="285.5" r="1.0"/><circle cx="430.5" cy="278.4" r="1.0"/><circle cx="431.7" cy="273.5" r="1.0"/><circle cx="432.8" cy="269.7" r="1.0"/><circle cx="434.0" cy="267.6" r="1.0"/><circle cx="435.1" cy="268.9" r="1.0"/><circle cx="436.3" cy="274.1" r="1.0"/><circle cx="437.4" cy="282.4" r="1.0"/><circle cx="438.6" cy="292.6" r="1.0"/><circle cx="439.7" cy="304.0" r="1.0"/><circle cx="440.9" cy="317.1" r="1.0"/><circle cx="442.0" cy="331.6" r="1.0"/><circle cx="443.2" cy="347.4" r="1.0"/><circle cx="444.3" cy="363.0" r="1.0"/><circle cx="445.5" cy="376.1" r="1.0"/><circle cx="446.6" cy="386.4" r="1.0"/><circle cx="447.8" cy="395.0" r="1.0"/><circle cx="448.9" cy="401.9" r="1.0"/><circle cx="450.1" cy="408.0" r="1.0"/><circle cx="451.2" cy="411.6" r="1.0"/><circle cx="452.4" cy="414.1" r="1.0"/><circle cx="453.5" cy="415.7" r="1.0"/><circle cx="454.7" cy="415.8" r="1.0"/><circle cx="455.8" cy="416.7" r="1.0"/><circle cx="457.0" cy="417.5" r="1.0"/><circle cx="458.1" cy="417.1" r="1.0"/><circle cx="459.3" cy="416.5" r="1.0"/><circle cx="460.4" cy="414.5" r="1.0"/><circle cx="461.6" cy="415.9" r="1.0"/><circle cx="462.7" cy="416.1" r="1.0"/><circle cx="463.9" cy="415.6" r="1.0"/><circle cx="465.0" cy="414.6" r="1.0"/><circle cx="466.2" cy="412.6" r="1.0"/><circle cx="467.3" cy="414.6" r="1.0"/><circle cx="468.5" cy="413.3" r="1.0"/><circle cx="469.6" cy="411.1" r="1.0"/><circle cx="470.8" cy="413.7" r="1.0"/><circle cx="471.9" cy="412.2" r="1.0"/><circle cx="473.1" cy="412.8" r="1.0"/><circle cx="474.2" cy="413.8" r="1.0"/><circle cx="475.4" cy="416.1" r="1.0"/><circle cx="476.5" cy="415.3" r="1.0"/><circle cx="477.7" cy="416.6" r="1.0"/><circle cx="478.8" cy="419.0" r="1.0"/><circle cx="480.0" cy="420.4" r="1.0"/><circle cx="481.1" cy="420.7" r="1.0"/><circle cx="482.3" cy="422.4" r="1.0"/><circle cx="483.4" cy="423.0" r="1.0"/><circle cx="484.6" cy="424.9" r="1.0"/><circle cx="485.7" cy="427.3" r="1.0"/><circle cx="486.9" cy="428.5" r="1.0"/><circle cx="488.0" cy="429.4" r="1.0"/><circle cx="489.2" cy="431.1" r="1.0"/><circle cx="490.3" cy="430.2" r="1.0"/><circle cx="491.5" cy="431.4" r="1.0"/><circle cx="492.6" cy="432.6" r="1.0"/><circle cx="493.8" cy="432.9" r="1.0"/><circle cx="494.9" cy="433.8" r="1.0"/><circle cx="496.1" cy="433.5" r="1.0"/><circle cx="497.2" cy="433.2" r="1.0"/><circle cx="498.4" cy="434.1" r="1.0"/><circle cx="499.5" cy="433.1" r="1.0"/><circle cx="500.7" cy="432.8" r="1.0"/><circle cx="501.8" cy="435.1" r="1.0"/><circle cx="503.0" cy="434.7" r="1.0"/><circle cx="504.1" cy="435.3" r="1.0"/><circle cx="505.3" cy="433.7" r="1.0"/><circle cx="506.4" cy="435.1" r="1.0"/><circle cx="507.6" cy="435.0" r="1.0"/><circle cx="508.7" cy="434.9" r="1.0"/><circle cx="509.9" cy="433.7" r="1.0"/><circle cx="511.0" cy="435.5" r="1.0"/><circle cx="512.2" cy="436.6" r="1.0"/><circle cx="513.3" cy="436.1" r="1.0"/><circle cx="514.5" cy="435.2" r="1.0"/><circle cx="515.6" cy="435.7" r="1.0"/><circle cx="516.8" cy="436.3" r="1.0"/><circle cx="517.9" cy="433.1" r="1.0"/><circle cx="519.1" cy="435.4" r="1.0"/><circle cx="520.2" cy="435.9" r="1.0"/><circle cx="521.4" cy="435.9" r="1.0"/><circle cx="522.5" cy="436.7" r="1.0"/><circle cx="523.7" cy="436.0" r="1.0"/><circle cx="524.8" cy="435.2" r="1.0"/><circle cx="526.0" cy="434.9" r="1.0"/><circle cx="527.1" cy="435.1" r="1.0"/><circle cx="528.3" cy="433.5" r="1.0"/><circle cx="529.4" cy="433.5" r="1.0"/><circle cx="530.6" cy="433.9" r="1.0"/><circle cx="531.7" cy="434.4" r="1.0"/><circle cx="532.9" cy="432.0" r="1.0"/><circle cx="534.0" cy="431.7" r="1.0"/><circle cx="535.2" cy="431.6" r="1.0"/><circle cx="536.3" cy="432.2" r="1.0"/><circle cx="537.5" cy="430.6" r="1.0"/><circle cx="538.6" cy="431.7" r="1.0"/></g>
<rect x="330" y="244" width="210" height="192.8" fill="none" stroke="#a2a2a2" stroke-width="1.2"/>
<line x1="326" y1="428.50" x2="330" y2="428.50" stroke="#555" stroke-width="0.8"/>
<text x="323.5" y="431.3" font-size="8.1" text-anchor="end" font-weight="bold" fill="#000" textLength="16.7" lengthAdjust="spacingAndGlyphs">1000</text>
<line x1="326" y1="400.13" x2="330" y2="400.13" stroke="#555" stroke-width="0.8"/>
<text x="323.5" y="402.93" font-size="8.1" text-anchor="end" font-weight="bold" fill="#000" textLength="16.7" lengthAdjust="spacingAndGlyphs">1200</text>
<line x1="326" y1="371.77" x2="330" y2="371.77" stroke="#555" stroke-width="0.8"/>
<text x="323.5" y="374.57" font-size="8.1" text-anchor="end" font-weight="bold" fill="#000" textLength="16.7" lengthAdjust="spacingAndGlyphs">1400</text>
<line x1="326" y1="343.40" x2="330" y2="343.40" stroke="#555" stroke-width="0.8"/>
<text x="323.5" y="346.2" font-size="8.1" text-anchor="end" font-weight="bold" fill="#000" textLength="16.7" lengthAdjust="spacingAndGlyphs">1600</text>
<line x1="326" y1="315.04" x2="330" y2="315.04" stroke="#555" stroke-width="0.8"/>
<text x="323.5" y="317.84" font-size="8.1" text-anchor="end" font-weight="bold" fill="#000" textLength="16.7" lengthAdjust="spacingAndGlyphs">1800</text>
<line x1="326" y1="286.67" x2="330" y2="286.67" stroke="#555" stroke-width="0.8"/>
<text x="323.5" y="289.47" font-size="8.1" text-anchor="end" font-weight="bold" fill="#000" textLength="16.7" lengthAdjust="spacingAndGlyphs">2000</text>
<line x1="326" y1="258.30" x2="330" y2="258.30" stroke="#555" stroke-width="0.8"/>
<text x="323.5" y="261.1" font-size="8.1" text-anchor="end" font-weight="bold" fill="#000" textLength="16.7" lengthAdjust="spacingAndGlyphs">2200</text>
<line x1="539.40" y1="436.8" x2="539.40" y2="440.0" stroke="#666" stroke-width="0.7"/>
<line x1="532.42" y1="436.8" x2="532.42" y2="438.6" stroke="#666" stroke-width="0.7"/>
<line x1="525.44" y1="436.8" x2="525.44" y2="438.6" stroke="#666" stroke-width="0.7"/>
<line x1="518.46" y1="436.8" x2="518.46" y2="438.6" stroke="#666" stroke-width="0.7"/>
<line x1="511.48" y1="436.8" x2="511.48" y2="438.6" stroke="#666" stroke-width="0.7"/>
<line x1="504.50" y1="436.8" x2="504.50" y2="440.0" stroke="#666" stroke-width="0.7"/>
<line x1="497.52" y1="436.8" x2="497.52" y2="438.6" stroke="#666" stroke-width="0.7"/>
<line x1="490.54" y1="436.8" x2="490.54" y2="438.6" stroke="#666" stroke-width="0.7"/>
<line x1="483.56" y1="436.8" x2="483.56" y2="438.6" stroke="#666" stroke-width="0.7"/>
<line x1="476.58" y1="436.8" x2="476.58" y2="438.6" stroke="#666" stroke-width="0.7"/>
<line x1="469.60" y1="436.8" x2="469.60" y2="440.0" stroke="#666" stroke-width="0.7"/>
<line x1="462.62" y1="436.8" x2="462.62" y2="438.6" stroke="#666" stroke-width="0.7"/>
<line x1="455.64" y1="436.8" x2="455.64" y2="438.6" stroke="#666" stroke-width="0.7"/>
<line x1="448.66" y1="436.8" x2="448.66" y2="438.6" stroke="#666" stroke-width="0.7"/>
<line x1="441.68" y1="436.8" x2="441.68" y2="438.6" stroke="#666" stroke-width="0.7"/>
<line x1="434.70" y1="436.8" x2="434.70" y2="440.0" stroke="#666" stroke-width="0.7"/>
<line x1="427.72" y1="436.8" x2="427.72" y2="438.6" stroke="#666" stroke-width="0.7"/>
<line x1="420.74" y1="436.8" x2="420.74" y2="438.6" stroke="#666" stroke-width="0.7"/>
<line x1="413.76" y1="436.8" x2="413.76" y2="438.6" stroke="#666" stroke-width="0.7"/>
<line x1="406.78" y1="436.8" x2="406.78" y2="438.6" stroke="#666" stroke-width="0.7"/>
<line x1="399.80" y1="436.8" x2="399.80" y2="440.0" stroke="#666" stroke-width="0.7"/>
<line x1="392.82" y1="436.8" x2="392.82" y2="438.6" stroke="#666" stroke-width="0.7"/>
<line x1="385.84" y1="436.8" x2="385.84" y2="438.6" stroke="#666" stroke-width="0.7"/>
<line x1="378.86" y1="436.8" x2="378.86" y2="438.6" stroke="#666" stroke-width="0.7"/>
<line x1="371.88" y1="436.8" x2="371.88" y2="438.6" stroke="#666" stroke-width="0.7"/>
<line x1="364.90" y1="436.8" x2="364.90" y2="440.0" stroke="#666" stroke-width="0.7"/>
<line x1="357.92" y1="436.8" x2="357.92" y2="438.6" stroke="#666" stroke-width="0.7"/>
<line x1="350.94" y1="436.8" x2="350.94" y2="438.6" stroke="#666" stroke-width="0.7"/>
<line x1="343.96" y1="436.8" x2="343.96" y2="438.6" stroke="#666" stroke-width="0.7"/>
<line x1="336.98" y1="436.8" x2="336.98" y2="438.6" stroke="#666" stroke-width="0.7"/>
<line x1="330.00" y1="436.8" x2="330.00" y2="440.0" stroke="#666" stroke-width="0.7"/>
<text x="330.0" y="450.5" font-size="8.1" text-anchor="middle" font-weight="bold" fill="#000" textLength="13" lengthAdjust="spacingAndGlyphs">300</text>
<text x="364.9" y="450.5" font-size="8.1" text-anchor="middle" font-weight="bold" fill="#000" textLength="13" lengthAdjust="spacingAndGlyphs">295</text>
<text x="399.8" y="450.5" font-size="8.1" text-anchor="middle" font-weight="bold" fill="#000" textLength="13" lengthAdjust="spacingAndGlyphs">290</text>
<text x="434.7" y="450.5" font-size="8.1" text-anchor="middle" font-weight="bold" fill="#000" textLength="13" lengthAdjust="spacingAndGlyphs">285</text>
<text x="469.6" y="450.5" font-size="8.1" text-anchor="middle" font-weight="bold" fill="#000" textLength="13" lengthAdjust="spacingAndGlyphs">280</text>
<text x="504.5" y="450.5" font-size="8.1" text-anchor="middle" font-weight="bold" fill="#000" textLength="13" lengthAdjust="spacingAndGlyphs">275</text>
<text x="539.4" y="450.5" font-size="8.1" text-anchor="middle" font-weight="bold" fill="#000" textLength="13" lengthAdjust="spacingAndGlyphs">270</text>
<text transform="translate(275.8 270.3) scale(0.99 1)" font-size="38" fill="#000" stroke="#fff" stroke-width="0.3">D</text>
<text x="435" y="463" font-size="9" text-anchor="middle" font-weight="bold" fill="#000" textLength="75" lengthAdjust="spacingAndGlyphs">Binding energy (eV)</text>
<text x="304.3" y="339.7" font-size="8.3" text-anchor="middle" font-weight="bold" fill="#000" textLength="76" lengthAdjust="spacingAndGlyphs" transform="rotate(-90 304.3 339.7)">Intensity (counts/s)</text>
<rect x="337.4" y="249.6" width="17.9" height="10.9" fill="#fff" stroke="#777" stroke-width="0.8"/>
<text x="338.8" y="258.1" font-size="8.5" text-anchor="start" font-weight="normal" fill="#000" textLength="15.9" lengthAdjust="spacingAndGlyphs" stroke="#000" stroke-width="0.1">C 1s</text>
<rect x="466.4" y="248.4" width="69.2" height="52" fill="#fff" stroke="#777" stroke-width="0.8"/>
<circle cx="474.4" cy="253.6" r="1.85" fill="#000"/>
<line x1="469" y1="261.6" x2="479.5" y2="261.6" stroke="#222" stroke-width="0.9"/>
<line x1="469" y1="270" x2="479.5" y2="270" stroke="#999" stroke-width="0.9"/>
<rect x="471.5" y="275.5" width="5.8" height="5.6" fill="#000"/>
<rect x="471.5" y="284" width="5.8" height="5.6" fill="#808080"/>
<rect x="471.5" y="292.2" width="5.8" height="5.6" fill="#c4c4c4"/>
<text x="483" y="256" font-size="7" text-anchor="start" font-weight="normal" fill="#111" textLength="51" lengthAdjust="spacingAndGlyphs" stroke="#111" stroke-width="0.12">Experimental data</text>
<text x="483" y="264" font-size="7" text-anchor="start" font-weight="normal" fill="#111" textLength="34" lengthAdjust="spacingAndGlyphs" stroke="#111" stroke-width="0.12">Background</text>
<text x="483" y="272.4" font-size="7" text-anchor="start" font-weight="normal" fill="#111" textLength="26" lengthAdjust="spacingAndGlyphs" stroke="#111" stroke-width="0.12">Envelope</text>
<text x="483" y="280.8" font-size="7" text-anchor="start" font-weight="normal" fill="#111" textLength="29" lengthAdjust="spacingAndGlyphs" stroke="#111" stroke-width="0.12">C-C &amp; C-H</text>
<text x="483" y="289.2" font-size="7" text-anchor="start" font-weight="normal" fill="#111" textLength="29.5" lengthAdjust="spacingAndGlyphs" stroke="#111" stroke-width="0.12">C-O &amp; C-N</text>
<text x="483" y="297.4" font-size="7" text-anchor="start" font-weight="normal" fill="#111" textLength="12.6" lengthAdjust="spacingAndGlyphs" stroke="#111" stroke-width="0.12">C=O</text>
</g></svg>
</body></html>
